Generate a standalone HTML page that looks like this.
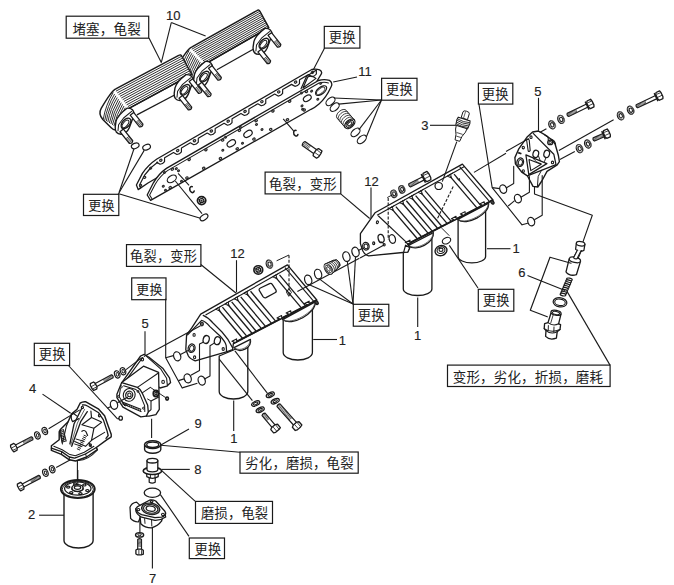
<!DOCTYPE html><html><head><meta charset="utf-8"><style>html,body{margin:0;padding:0;background:#fff;}body{width:674px;height:585px;overflow:hidden;font-family:"Liberation Sans",sans-serif;}svg{display:block}</style></head><body><svg width="674" height="585" viewBox="0 0 674 585" font-family="Liberation Sans, sans-serif">
<rect x="66.2" y="16.2" width="82.5" height="22" fill="#fff" stroke="#1a1a1a" stroke-width="1.2"/>
<text x="72.4 86.12 99.84 113.56 127.28" y="33.82" font-size="13.51" fill="#222" font-family="'Liberation Sans', 'Noto Sans CJK SC', sans-serif">堵塞，龟裂</text>
<rect x="324.3" y="26.4" width="35.6" height="21.7" fill="#fff" stroke="#1a1a1a" stroke-width="1.2"/>
<text x="328.8 342.3" y="42.39" font-size="13.3" fill="#222" font-family="'Liberation Sans', 'Noto Sans CJK SC', sans-serif">更换</text>
<rect x="381.6" y="78.3" width="35.4" height="21.9" fill="#fff" stroke="#1a1a1a" stroke-width="1.2"/>
<text x="386 399.4" y="94.25" font-size="13.2" fill="#222" font-family="'Liberation Sans', 'Noto Sans CJK SC', sans-serif">更换</text>
<rect x="478.4" y="83.2" width="34.4" height="20.9" fill="#fff" stroke="#1a1a1a" stroke-width="1.2"/>
<text x="481.8 495.3" y="98.99" font-size="13.3" fill="#222" font-family="'Liberation Sans', 'Noto Sans CJK SC', sans-serif">更换</text>
<rect x="265.1" y="172.1" width="75.7" height="21.8" fill="#fff" stroke="#1a1a1a" stroke-width="1.2"/>
<text x="269 282.58 296.16 309.74 323.32" y="188.77" font-size="13.38" fill="#222" font-family="'Liberation Sans', 'Noto Sans CJK SC', sans-serif">龟裂，变形</text>
<rect x="126.5" y="244.6" width="74.4" height="21.8" fill="#fff" stroke="#1a1a1a" stroke-width="1.2"/>
<text x="130.1 143.5 156.9 170.3 183.7" y="260.55" font-size="13.2" fill="#222" font-family="'Liberation Sans', 'Noto Sans CJK SC', sans-serif">龟裂，变形</text>
<rect x="131.7" y="277.9" width="34.3" height="21.8" fill="#fff" stroke="#1a1a1a" stroke-width="1.2"/>
<text x="136.3 149.4" y="293.58" font-size="12.9" fill="#222" font-family="'Liberation Sans', 'Noto Sans CJK SC', sans-serif">更换</text>
<rect x="34.3" y="343.3" width="35.3" height="22.2" fill="#fff" stroke="#1a1a1a" stroke-width="1.2"/>
<text x="38.8 52.3" y="359.34" font-size="13.3" fill="#222" font-family="'Liberation Sans', 'Noto Sans CJK SC', sans-serif">更换</text>
<rect x="353.3" y="304.3" width="35.5" height="21.9" fill="#fff" stroke="#1a1a1a" stroke-width="1.2"/>
<text x="357.8 371.25" y="320.17" font-size="13.25" fill="#222" font-family="'Liberation Sans', 'Noto Sans CJK SC', sans-serif">更换</text>
<rect x="478.3" y="289.3" width="35.5" height="21.9" fill="#fff" stroke="#1a1a1a" stroke-width="1.2"/>
<text x="482.8 496.25" y="305.17" font-size="13.25" fill="#222" font-family="'Liberation Sans', 'Noto Sans CJK SC', sans-serif">更换</text>
<rect x="447.5" y="365.1" width="162.6" height="21.4" fill="#fff" stroke="#1a1a1a" stroke-width="1.2"/>
<text x="452.7 466.38 480.07 493.75 507.43 521.11 534.79 548.48 562.16 575.84 589.52" y="381.76" font-size="13.48" fill="#222" font-family="'Liberation Sans', 'Noto Sans CJK SC', sans-serif">变形，劣化，折损，磨耗</text>
<rect x="240" y="452" width="118.2" height="21.2" fill="#fff" stroke="#1a1a1a" stroke-width="1.2"/>
<text x="245.3 258.85 272.4 285.95 299.5 313.05 326.6 340.15" y="468.41" font-size="13.35" fill="#222" font-family="'Liberation Sans', 'Noto Sans CJK SC', sans-serif">劣化，磨损，龟裂</text>
<rect x="195.5" y="501.4" width="77" height="22" fill="#fff" stroke="#1a1a1a" stroke-width="1.2"/>
<text x="201 214.46 227.92 241.38 254.84" y="517.67" font-size="13.26" fill="#222" font-family="'Liberation Sans', 'Noto Sans CJK SC', sans-serif">磨损，龟裂</text>
<rect x="189.3" y="538" width="35.2" height="20.6" fill="#fff" stroke="#1a1a1a" stroke-width="1.2"/>
<text x="194.5 207.9" y="553.75" font-size="13.2" fill="#222" font-family="'Liberation Sans', 'Noto Sans CJK SC', sans-serif">更换</text>
<rect x="83.5" y="194.3" width="35.3" height="21.2" fill="#fff" stroke="#1a1a1a" stroke-width="1.2"/>
<text x="88.2 101.45" y="210.14" font-size="13.05" fill="#222" font-family="'Liberation Sans', 'Noto Sans CJK SC', sans-serif">更换</text>
<path d="M204 64.6 L268.8 27.6 L270.2 33 L216.9 70.3 Z" fill="#fff" stroke="#1a1a1a" stroke-width="0.014" stroke-linejoin="round" stroke-linecap="round" />
<line x1="216.9" y1="69.8" x2="255" y2="48.2" stroke="#1a1a1a" stroke-width="1.242" />
<path d="M191.6 47.1 L256.9 10.6 Q259.2 9.2 260.1 11.7 L268.8 27.6 L204 64.6 L195.1 83.8 Q191.5 87.2 187.7 83.2 L178.6 77.7 Q173.8 72.3 177 66.7 Q187 49.3 191.6 47.1 Z" fill="#fff" stroke="#1a1a1a" stroke-width="1.449" stroke-linejoin="round" stroke-linecap="round" />
<line x1="191.8" y1="49.2" x2="259.75" y2="11.22" stroke="#222" stroke-width="0.938" />
<path d="M188.9 50.75 Q181.59 62.77 179.19 76.8" fill="none" stroke="#222" stroke-width="0.938" stroke-linejoin="round" stroke-linecap="round" />
<line x1="193.2" y1="50.64" x2="260.69" y2="12.84" stroke="#222" stroke-width="0.938" />
<path d="M190.3 52.19 Q183.22 63.85 180.78 77.5" fill="none" stroke="#222" stroke-width="0.938" stroke-linejoin="round" stroke-linecap="round" />
<line x1="194.6" y1="52.09" x2="261.64" y2="14.45" stroke="#222" stroke-width="0.938" />
<path d="M191.7 53.64 Q184.86 64.92 182.37 78.2" fill="none" stroke="#222" stroke-width="0.938" stroke-linejoin="round" stroke-linecap="round" />
<line x1="196" y1="53.53" x2="262.58" y2="16.07" stroke="#222" stroke-width="0.938" />
<path d="M193.1 55.08 Q186.5 65.99 183.96 78.9" fill="none" stroke="#222" stroke-width="0.938" stroke-linejoin="round" stroke-linecap="round" />
<line x1="197.4" y1="54.98" x2="263.53" y2="17.69" stroke="#222" stroke-width="0.938" />
<path d="M194.5 56.53 Q188.14 67.06 185.55 79.6" fill="none" stroke="#222" stroke-width="0.938" stroke-linejoin="round" stroke-linecap="round" />
<line x1="198.8" y1="56.42" x2="264.47" y2="19.31" stroke="#222" stroke-width="0.938" />
<path d="M195.9 57.97 Q189.77 68.14 187.15 80.3" fill="none" stroke="#222" stroke-width="0.938" stroke-linejoin="round" stroke-linecap="round" />
<line x1="200.2" y1="57.87" x2="265.42" y2="20.93" stroke="#222" stroke-width="0.938" />
<path d="M197.3 59.42 Q191.41 69.21 188.74 81" fill="none" stroke="#222" stroke-width="0.938" stroke-linejoin="round" stroke-linecap="round" />
<line x1="201.6" y1="59.31" x2="266.36" y2="22.55" stroke="#222" stroke-width="0.938" />
<path d="M198.7 60.86 Q193.05 70.28 190.33 81.7" fill="none" stroke="#222" stroke-width="0.938" stroke-linejoin="round" stroke-linecap="round" />
<line x1="203" y1="60.76" x2="267.31" y2="24.16" stroke="#222" stroke-width="0.938" />
<path d="M200.1 62.31 Q194.69 71.35 191.92 82.4" fill="none" stroke="#222" stroke-width="0.938" stroke-linejoin="round" stroke-linecap="round" />
<line x1="204.4" y1="62.2" x2="268.25" y2="25.78" stroke="#222" stroke-width="0.938" />
<path d="M201.5 63.75 Q196.32 72.43 193.51 83.1" fill="none" stroke="#222" stroke-width="0.938" stroke-linejoin="round" stroke-linecap="round" />
<line x1="205.8" y1="63.65" x2="268.8" y2="27.6" stroke="#1a1a1a" stroke-width="1.311" />
<path d="M202.9 65.2 Q197.96 73.5 195.1 83.8" fill="none" stroke="#1a1a1a" stroke-width="1.311" stroke-linejoin="round" stroke-linecap="round" />
<path d="M264.9 28.4 Q271.7 28 272.1 34.6 L267.1 48.2 Q264.4 54.1 258.9 54.4 Q252.7 54.2 253.1 47.1 L253.9 41.6 Q255.3 35.6 264.9 28.4 Z" fill="#fff" stroke="#1a1a1a" stroke-width="1.38" stroke-linejoin="round" stroke-linecap="round" />
<path d="M269.5 31.6 L261.5 38.2 L256.5 45 L255.9 51" fill="none" stroke="#1a1a1a" stroke-width="1.035" stroke-linejoin="round" stroke-linecap="round" />
<ellipse cx="263.9" cy="43.6" rx="6.2" ry="3.7" fill="none" stroke="#1a1a1a" stroke-width="1.311" transform="rotate(-50 263.9 43.6)"/>
<ellipse cx="263.4" cy="44.1" rx="4.5" ry="2.2" fill="none" stroke="#1a1a1a" stroke-width="1.035" transform="rotate(-50 263.4 44.1)"/>
<path d="M268.08 35.36 L277.38 47.06 Q280.46 47.42 280.82 44.34 L271.52 32.64 Z" fill="#fff" stroke="#1a1a1a" stroke-width="1.242" stroke-linejoin="round" stroke-linecap="round" />
<line x1="277.01" y1="46.6" x2="280.44" y2="43.87" stroke="#333" stroke-width="0.828" />
<line x1="276.21" y1="45.58" x2="279.64" y2="42.85" stroke="#333" stroke-width="0.828" />
<line x1="275.4" y1="44.57" x2="278.83" y2="41.84" stroke="#333" stroke-width="0.828" />
<line x1="274.59" y1="43.55" x2="278.03" y2="40.83" stroke="#333" stroke-width="0.828" />
<line x1="273.79" y1="42.54" x2="277.22" y2="39.81" stroke="#333" stroke-width="0.828" />
<path d="M257.88 51.96 L267.18 63.66 Q270.26 64.02 270.62 60.94 L261.32 49.24 Z" fill="#fff" stroke="#1a1a1a" stroke-width="1.242" stroke-linejoin="round" stroke-linecap="round" />
<line x1="266.81" y1="63.2" x2="270.24" y2="60.47" stroke="#333" stroke-width="0.828" />
<line x1="266.01" y1="62.18" x2="269.44" y2="59.45" stroke="#333" stroke-width="0.828" />
<line x1="265.2" y1="61.17" x2="268.63" y2="58.44" stroke="#333" stroke-width="0.828" />
<line x1="264.39" y1="60.15" x2="267.83" y2="57.43" stroke="#333" stroke-width="0.828" />
<line x1="263.59" y1="59.14" x2="267.02" y2="56.41" stroke="#333" stroke-width="0.828" />
<path d="M205.4 61.4 Q212.2 61 212.6 67.6 L207.6 81.2 Q204.9 87.1 199.4 87.4 Q193.2 87.2 193.6 80.1 L194.4 74.6 Q195.8 68.6 205.4 61.4 Z" fill="#fff" stroke="#1a1a1a" stroke-width="1.38" stroke-linejoin="round" stroke-linecap="round" />
<path d="M210 64.6 L202 71.2 L197 78 L196.4 84" fill="none" stroke="#1a1a1a" stroke-width="1.035" stroke-linejoin="round" stroke-linecap="round" />
<ellipse cx="204.4" cy="76.6" rx="6.2" ry="3.7" fill="none" stroke="#1a1a1a" stroke-width="1.311" transform="rotate(-50 204.4 76.6)"/>
<ellipse cx="203.9" cy="77.1" rx="4.5" ry="2.2" fill="none" stroke="#1a1a1a" stroke-width="1.035" transform="rotate(-50 203.9 77.1)"/>
<path d="M208.58 68.36 L217.88 80.06 Q220.96 80.42 221.32 77.34 L212.02 65.64 Z" fill="#fff" stroke="#1a1a1a" stroke-width="1.242" stroke-linejoin="round" stroke-linecap="round" />
<line x1="217.51" y1="79.6" x2="220.94" y2="76.87" stroke="#333" stroke-width="0.828" />
<line x1="216.71" y1="78.58" x2="220.14" y2="75.85" stroke="#333" stroke-width="0.828" />
<line x1="215.9" y1="77.57" x2="219.33" y2="74.84" stroke="#333" stroke-width="0.828" />
<line x1="215.09" y1="76.55" x2="218.53" y2="73.83" stroke="#333" stroke-width="0.828" />
<line x1="214.29" y1="75.54" x2="217.72" y2="72.81" stroke="#333" stroke-width="0.828" />
<path d="M198.38 84.96 L207.68 96.66 Q210.76 97.02 211.12 93.94 L201.82 82.24 Z" fill="#fff" stroke="#1a1a1a" stroke-width="1.242" stroke-linejoin="round" stroke-linecap="round" />
<line x1="207.31" y1="96.2" x2="210.74" y2="93.47" stroke="#333" stroke-width="0.828" />
<line x1="206.51" y1="95.18" x2="209.94" y2="92.45" stroke="#333" stroke-width="0.828" />
<line x1="205.7" y1="94.17" x2="209.13" y2="91.44" stroke="#333" stroke-width="0.828" />
<line x1="204.89" y1="93.15" x2="208.33" y2="90.43" stroke="#333" stroke-width="0.828" />
<line x1="204.09" y1="92.14" x2="207.52" y2="89.41" stroke="#333" stroke-width="0.828" />
<path d="M127.5 109.2 L191.7 74.4 L193.1 79.8 L136.9 115.4 Z" fill="#fff" stroke="#1a1a1a" stroke-width="0.014" stroke-linejoin="round" stroke-linecap="round" />
<line x1="136.9" y1="114.9" x2="178.4" y2="93" stroke="#1a1a1a" stroke-width="1.242" />
<path d="M115.8 88.8 L178.7 55.4 Q181 54 181.9 56.5 L191.7 74.4 L127.5 109.2 L118.6 128.4 Q115 131.8 111.2 127.8 L102.8 119.4 Q98 114 101.2 108.4 Q111.2 91 115.8 88.8 Z" fill="#fff" stroke="#1a1a1a" stroke-width="1.449" stroke-linejoin="round" stroke-linecap="round" />
<line x1="115.94" y1="91.16" x2="181.65" y2="56.2" stroke="#222" stroke-width="0.938" />
<path d="M113.04 92.71 Q105.72 104.74 103.33 118.76" fill="none" stroke="#222" stroke-width="0.938" stroke-linejoin="round" stroke-linecap="round" />
<line x1="117.27" y1="92.87" x2="182.69" y2="58" stroke="#222" stroke-width="0.938" />
<path d="M114.37 94.42 Q107.3 106.07 104.85 119.73" fill="none" stroke="#222" stroke-width="0.938" stroke-linejoin="round" stroke-linecap="round" />
<line x1="118.61" y1="94.58" x2="183.74" y2="59.8" stroke="#222" stroke-width="0.938" />
<path d="M115.71 96.13 Q108.87 107.41 106.38 120.69" fill="none" stroke="#222" stroke-width="0.938" stroke-linejoin="round" stroke-linecap="round" />
<line x1="119.95" y1="96.29" x2="184.78" y2="61.6" stroke="#222" stroke-width="0.938" />
<path d="M117.05 97.84 Q110.44 108.75 107.91 121.65" fill="none" stroke="#222" stroke-width="0.938" stroke-linejoin="round" stroke-linecap="round" />
<line x1="121.28" y1="98" x2="185.83" y2="63.4" stroke="#222" stroke-width="0.938" />
<path d="M118.38 99.55 Q112.02 110.08 109.44 122.62" fill="none" stroke="#222" stroke-width="0.938" stroke-linejoin="round" stroke-linecap="round" />
<line x1="122.62" y1="99.7" x2="186.87" y2="65.2" stroke="#222" stroke-width="0.938" />
<path d="M119.72 101.25 Q113.59 111.42 110.96 123.58" fill="none" stroke="#222" stroke-width="0.938" stroke-linejoin="round" stroke-linecap="round" />
<line x1="123.95" y1="101.41" x2="187.92" y2="67" stroke="#222" stroke-width="0.938" />
<path d="M121.05 102.96 Q115.17 112.75 112.49 124.55" fill="none" stroke="#222" stroke-width="0.938" stroke-linejoin="round" stroke-linecap="round" />
<line x1="125.29" y1="103.12" x2="188.96" y2="68.8" stroke="#222" stroke-width="0.938" />
<path d="M122.39 104.67 Q116.74 114.09 114.02 125.51" fill="none" stroke="#222" stroke-width="0.938" stroke-linejoin="round" stroke-linecap="round" />
<line x1="126.63" y1="104.83" x2="190.01" y2="70.6" stroke="#222" stroke-width="0.938" />
<path d="M123.73 106.38 Q118.31 115.43 115.55 126.47" fill="none" stroke="#222" stroke-width="0.938" stroke-linejoin="round" stroke-linecap="round" />
<line x1="127.96" y1="106.54" x2="191.05" y2="72.4" stroke="#222" stroke-width="0.938" />
<path d="M125.06 108.09 Q119.89 116.76 117.07 127.44" fill="none" stroke="#222" stroke-width="0.938" stroke-linejoin="round" stroke-linecap="round" />
<line x1="129.3" y1="108.25" x2="191.7" y2="74.4" stroke="#1a1a1a" stroke-width="1.311" />
<path d="M126.4 109.8 Q121.46 118.1 118.6 128.4" fill="none" stroke="#1a1a1a" stroke-width="1.311" stroke-linejoin="round" stroke-linecap="round" />
<path d="M186 74.6 Q192.8 74.2 193.2 80.8 L188.2 94.4 Q185.5 100.3 180 100.6 Q173.8 100.4 174.2 93.3 L175 87.8 Q176.4 81.8 186 74.6 Z" fill="#fff" stroke="#1a1a1a" stroke-width="1.38" stroke-linejoin="round" stroke-linecap="round" />
<path d="M190.6 77.8 L182.6 84.4 L177.6 91.2 L177 97.2" fill="none" stroke="#1a1a1a" stroke-width="1.035" stroke-linejoin="round" stroke-linecap="round" />
<ellipse cx="185" cy="89.8" rx="6.2" ry="3.7" fill="none" stroke="#1a1a1a" stroke-width="1.311" transform="rotate(-50 185 89.8)"/>
<ellipse cx="184.5" cy="90.3" rx="4.5" ry="2.2" fill="none" stroke="#1a1a1a" stroke-width="1.035" transform="rotate(-50 184.5 90.3)"/>
<path d="M189.18 81.56 L198.48 93.26 Q201.56 93.62 201.92 90.54 L192.62 78.84 Z" fill="#fff" stroke="#1a1a1a" stroke-width="1.242" stroke-linejoin="round" stroke-linecap="round" />
<line x1="198.11" y1="92.8" x2="201.54" y2="90.07" stroke="#333" stroke-width="0.828" />
<line x1="197.31" y1="91.78" x2="200.74" y2="89.05" stroke="#333" stroke-width="0.828" />
<line x1="196.5" y1="90.77" x2="199.93" y2="88.04" stroke="#333" stroke-width="0.828" />
<line x1="195.69" y1="89.75" x2="199.13" y2="87.03" stroke="#333" stroke-width="0.828" />
<line x1="194.89" y1="88.74" x2="198.32" y2="86.01" stroke="#333" stroke-width="0.828" />
<path d="M178.98 98.16 L188.28 109.86 Q191.36 110.22 191.72 107.14 L182.42 95.44 Z" fill="#fff" stroke="#1a1a1a" stroke-width="1.242" stroke-linejoin="round" stroke-linecap="round" />
<line x1="187.91" y1="109.4" x2="191.34" y2="106.67" stroke="#333" stroke-width="0.828" />
<line x1="187.11" y1="108.38" x2="190.54" y2="105.65" stroke="#333" stroke-width="0.828" />
<line x1="186.3" y1="107.37" x2="189.73" y2="104.64" stroke="#333" stroke-width="0.828" />
<line x1="185.49" y1="106.35" x2="188.93" y2="103.63" stroke="#333" stroke-width="0.828" />
<line x1="184.69" y1="105.34" x2="188.12" y2="102.61" stroke="#333" stroke-width="0.828" />
<path d="M127 108.2 Q133.8 107.8 134.2 114.4 L129.2 128 Q126.5 133.9 121 134.2 Q114.8 134 115.2 126.9 L116 121.4 Q117.4 115.4 127 108.2 Z" fill="#fff" stroke="#1a1a1a" stroke-width="1.38" stroke-linejoin="round" stroke-linecap="round" />
<path d="M131.6 111.4 L123.6 118 L118.6 124.8 L118 130.8" fill="none" stroke="#1a1a1a" stroke-width="1.035" stroke-linejoin="round" stroke-linecap="round" />
<ellipse cx="126" cy="123.4" rx="6.2" ry="3.7" fill="none" stroke="#1a1a1a" stroke-width="1.311" transform="rotate(-50 126 123.4)"/>
<ellipse cx="125.5" cy="123.9" rx="4.5" ry="2.2" fill="none" stroke="#1a1a1a" stroke-width="1.035" transform="rotate(-50 125.5 123.9)"/>
<path d="M130.18 115.16 L139.48 126.86 Q142.56 127.22 142.92 124.14 L133.62 112.44 Z" fill="#fff" stroke="#1a1a1a" stroke-width="1.242" stroke-linejoin="round" stroke-linecap="round" />
<line x1="139.11" y1="126.4" x2="142.54" y2="123.67" stroke="#333" stroke-width="0.828" />
<line x1="138.31" y1="125.38" x2="141.74" y2="122.65" stroke="#333" stroke-width="0.828" />
<line x1="137.5" y1="124.37" x2="140.93" y2="121.64" stroke="#333" stroke-width="0.828" />
<line x1="136.69" y1="123.35" x2="140.13" y2="120.63" stroke="#333" stroke-width="0.828" />
<line x1="135.89" y1="122.34" x2="139.32" y2="119.61" stroke="#333" stroke-width="0.828" />
<path d="M119.98 131.76 L129.28 143.46 Q132.36 143.82 132.72 140.74 L123.42 129.04 Z" fill="#fff" stroke="#1a1a1a" stroke-width="1.242" stroke-linejoin="round" stroke-linecap="round" />
<line x1="128.91" y1="143" x2="132.34" y2="140.27" stroke="#333" stroke-width="0.828" />
<line x1="128.11" y1="141.98" x2="131.54" y2="139.25" stroke="#333" stroke-width="0.828" />
<line x1="127.3" y1="140.97" x2="130.73" y2="138.24" stroke="#333" stroke-width="0.828" />
<line x1="126.49" y1="139.95" x2="129.93" y2="137.23" stroke="#333" stroke-width="0.828" />
<line x1="125.69" y1="138.94" x2="129.12" y2="136.21" stroke="#333" stroke-width="0.828" />
<text x="166" y="19.8" font-size="13" fill="#222" stroke="#222" stroke-width="0.15" text-anchor="start">10</text>
<line x1="171.3" y1="22.6" x2="161.3" y2="62.6" stroke="#1a1a1a" stroke-width="1.104" />
<line x1="171.3" y1="22.6" x2="205.6" y2="36" stroke="#1a1a1a" stroke-width="1.104" />
<line x1="149" y1="38" x2="161.3" y2="62.6" stroke="#1a1a1a" stroke-width="1.104" />
<path d="M138.2 189.6 L136.4 185 L142.4 173.4 Q148 165 156.9 159 L311.8 69.5 Q316 68.6 319.6 69.8 Q322.6 71.4 321.2 74.2 L314 86 L148 183 Z" fill="#fff" stroke="#1a1a1a" stroke-width="1.311" stroke-linejoin="round" stroke-linecap="round" />
<path d="M140.6 188 L139.4 185.2 L144.8 174.8 Q150 167.4 157.6 162.2 L156.63 162.27 Q158.29 163.16 160.06 164.22 Q162.91 163.96 164.56 161.62 Q164.53 159.56 164.6 157.67 L173.5 152.54 Q175.16 153.42 176.93 154.48 Q179.78 154.22 181.43 151.88 Q181.4 149.82 181.46 147.94 L190.36 142.8 Q192.03 143.68 193.79 144.74 Q196.65 144.48 198.3 142.14 Q198.26 140.08 198.33 138.2 L207.23 133.06 Q208.9 133.94 210.66 135 Q213.51 134.74 215.17 132.4 Q215.13 130.34 215.2 128.46 L224.1 123.32 Q225.76 124.21 227.53 125.26 Q230.38 125 232.03 122.66 Q232 120.61 232.06 118.72 L240.96 113.58 Q242.63 114.47 244.4 115.53 Q247.25 115.27 248.9 112.93 Q248.87 110.87 248.93 108.98 L257.83 103.84 Q259.5 104.73 261.26 105.79 Q264.11 105.53 265.77 103.19 Q265.73 101.13 265.8 99.24 L274.7 94.1 Q276.36 94.99 278.13 96.05 Q280.98 95.79 282.63 93.45 Q282.6 91.39 282.67 89.5 L291.57 84.37 Q293.23 85.25 295 86.31 Q297.85 86.05 299.5 83.71 Q299.47 81.65 299.53 79.77 L308.43 74.63 Q310.1 75.51 311.86 76.57 Q314.72 76.31 316.37 73.97 Q316.33 71.91 316.4 70.03 L306.6 76.2" fill="none" stroke="#1a1a1a" stroke-width="1.173" stroke-linejoin="round" stroke-linecap="round" />
<ellipse cx="160.8" cy="160.3" rx="1.26" ry="0.98" fill="none" stroke="#2a2a2a" stroke-width="1.242" transform="rotate(-30 160.8 160.3)"/>
<ellipse cx="177.65" cy="150.53" rx="1.26" ry="0.98" fill="none" stroke="#2a2a2a" stroke-width="1.242" transform="rotate(-30 177.65 150.53)"/>
<ellipse cx="194.5" cy="140.76" rx="1.26" ry="0.98" fill="none" stroke="#2a2a2a" stroke-width="1.242" transform="rotate(-30 194.5 140.76)"/>
<ellipse cx="211.35" cy="130.99" rx="1.26" ry="0.98" fill="none" stroke="#2a2a2a" stroke-width="1.242" transform="rotate(-30 211.35 130.99)"/>
<ellipse cx="228.2" cy="121.22" rx="1.26" ry="0.98" fill="none" stroke="#2a2a2a" stroke-width="1.242" transform="rotate(-30 228.2 121.22)"/>
<ellipse cx="245.05" cy="111.45" rx="1.26" ry="0.98" fill="none" stroke="#2a2a2a" stroke-width="1.242" transform="rotate(-30 245.05 111.45)"/>
<ellipse cx="261.9" cy="101.68" rx="1.26" ry="0.98" fill="none" stroke="#2a2a2a" stroke-width="1.242" transform="rotate(-30 261.9 101.68)"/>
<ellipse cx="278.75" cy="91.91" rx="1.26" ry="0.98" fill="none" stroke="#2a2a2a" stroke-width="1.242" transform="rotate(-30 278.75 91.91)"/>
<ellipse cx="295.6" cy="82.14" rx="1.26" ry="0.98" fill="none" stroke="#2a2a2a" stroke-width="1.242" transform="rotate(-30 295.6 82.14)"/>
<ellipse cx="312.45" cy="72.37" rx="1.26" ry="0.98" fill="none" stroke="#2a2a2a" stroke-width="1.242" transform="rotate(-30 312.45 72.37)"/>
<ellipse cx="144.6" cy="177.4" rx="1.21" ry="0.94" fill="none" stroke="#2a2a2a" stroke-width="1.242" transform="rotate(-30 144.6 177.4)"/>
<ellipse cx="140.6" cy="185.4" rx="1.1" ry="0.85" fill="none" stroke="#2a2a2a" stroke-width="1.242" transform="rotate(-30 140.6 185.4)"/>
<ellipse cx="150.6" cy="168.2" rx="1.1" ry="0.85" fill="none" stroke="#2a2a2a" stroke-width="1.242" transform="rotate(-30 150.6 168.2)"/>
<path d="M306.6 76.2 L301 88.7 M307.8 77 Q311 74.6 316 78.4 L303 88 Z" fill="none" stroke="#1a1a1a" stroke-width="1.173" stroke-linejoin="round" stroke-linecap="round" />
<path d="M150.6 200.4 L147.2 195 L153.4 182.8 Q158.5 174 166.4 168.4 L318.5 80.5 Q324 78.8 329.5 80.4 Q333.2 83 331 87 Q326 98 319 104 Q315 107.5 311 109.3 Z" fill="#fff" stroke="#1a1a1a" stroke-width="1.311" stroke-linejoin="round" stroke-linecap="round" />
<path d="M151.8 198.6 L149.6 195 L155.2 184.2 Q160 176 167.5 170.6 L319 83 Q324.5 81.5 328.4 83" fill="none" stroke="#1a1a1a" stroke-width="1.035" stroke-linejoin="round" stroke-linecap="round" />
<ellipse cx="172.4" cy="169.2" rx="1.26" ry="0.98" fill="none" stroke="#2a2a2a" stroke-width="1.242" transform="rotate(-30 172.4 169.2)"/>
<ellipse cx="189.15" cy="159.5" rx="1.26" ry="0.98" fill="none" stroke="#2a2a2a" stroke-width="1.242" transform="rotate(-30 189.15 159.5)"/>
<ellipse cx="205.9" cy="149.8" rx="1.26" ry="0.98" fill="none" stroke="#2a2a2a" stroke-width="1.242" transform="rotate(-30 205.9 149.8)"/>
<ellipse cx="222.65" cy="140.1" rx="1.26" ry="0.98" fill="none" stroke="#2a2a2a" stroke-width="1.242" transform="rotate(-30 222.65 140.1)"/>
<ellipse cx="239.4" cy="130.4" rx="1.26" ry="0.98" fill="none" stroke="#2a2a2a" stroke-width="1.242" transform="rotate(-30 239.4 130.4)"/>
<ellipse cx="256.15" cy="120.7" rx="1.26" ry="0.98" fill="none" stroke="#2a2a2a" stroke-width="1.242" transform="rotate(-30 256.15 120.7)"/>
<ellipse cx="272.9" cy="111" rx="1.26" ry="0.98" fill="none" stroke="#2a2a2a" stroke-width="1.242" transform="rotate(-30 272.9 111)"/>
<ellipse cx="289.65" cy="101.3" rx="1.26" ry="0.98" fill="none" stroke="#2a2a2a" stroke-width="1.242" transform="rotate(-30 289.65 101.3)"/>
<ellipse cx="306.4" cy="91.6" rx="1.26" ry="0.98" fill="none" stroke="#2a2a2a" stroke-width="1.242" transform="rotate(-30 306.4 91.6)"/>
<ellipse cx="170.2" cy="187.6" rx="1.26" ry="0.98" fill="none" stroke="#2a2a2a" stroke-width="1.242" transform="rotate(-30 170.2 187.6)"/>
<ellipse cx="186.95" cy="177.9" rx="1.26" ry="0.98" fill="none" stroke="#2a2a2a" stroke-width="1.242" transform="rotate(-30 186.95 177.9)"/>
<ellipse cx="203.7" cy="168.2" rx="1.26" ry="0.98" fill="none" stroke="#2a2a2a" stroke-width="1.242" transform="rotate(-30 203.7 168.2)"/>
<ellipse cx="220.45" cy="158.5" rx="1.26" ry="0.98" fill="none" stroke="#2a2a2a" stroke-width="1.242" transform="rotate(-30 220.45 158.5)"/>
<ellipse cx="237.2" cy="148.8" rx="1.26" ry="0.98" fill="none" stroke="#2a2a2a" stroke-width="1.242" transform="rotate(-30 237.2 148.8)"/>
<ellipse cx="253.95" cy="139.1" rx="1.26" ry="0.98" fill="none" stroke="#2a2a2a" stroke-width="1.242" transform="rotate(-30 253.95 139.1)"/>
<ellipse cx="270.7" cy="129.4" rx="1.26" ry="0.98" fill="none" stroke="#2a2a2a" stroke-width="1.242" transform="rotate(-30 270.7 129.4)"/>
<ellipse cx="287.45" cy="119.7" rx="1.26" ry="0.98" fill="none" stroke="#2a2a2a" stroke-width="1.242" transform="rotate(-30 287.45 119.7)"/>
<ellipse cx="304.2" cy="110" rx="1.26" ry="0.98" fill="none" stroke="#2a2a2a" stroke-width="1.242" transform="rotate(-30 304.2 110)"/>
<ellipse cx="321.1" cy="90.6" rx="6.6" ry="3.4" fill="none" stroke="#1a1a1a" stroke-width="1.173" transform="rotate(-38 321.1 90.6)"/>
<ellipse cx="320.7" cy="90.9" rx="5.2" ry="2.3" fill="none" stroke="#1a1a1a" stroke-width="0.828" transform="rotate(-38 320.7 90.9)"/>
<ellipse cx="307.3" cy="98.3" rx="4.3" ry="2.7" fill="none" stroke="#1a1a1a" stroke-width="1.173" transform="rotate(-33 307.3 98.3)"/>
<ellipse cx="248" cy="133.9" rx="4.6" ry="2.9" fill="none" stroke="#1a1a1a" stroke-width="1.173" transform="rotate(-33 248 133.9)"/>
<ellipse cx="231.3" cy="143.4" rx="4.6" ry="2.9" fill="none" stroke="#1a1a1a" stroke-width="1.173" transform="rotate(-33 231.3 143.4)"/>
<ellipse cx="171.8" cy="178.9" rx="5" ry="3.2" fill="none" stroke="#1a1a1a" stroke-width="1.173" transform="rotate(-33 171.8 178.9)"/>
<ellipse cx="320.7" cy="83.4" rx="0.99" ry="0.77" fill="none" stroke="#2a2a2a" stroke-width="1.242" transform="rotate(-30 320.7 83.4)"/>
<ellipse cx="311.6" cy="91.1" rx="0.99" ry="0.77" fill="none" stroke="#2a2a2a" stroke-width="1.242" transform="rotate(-30 311.6 91.1)"/>
<ellipse cx="317.8" cy="99.2" rx="0.99" ry="0.77" fill="none" stroke="#2a2a2a" stroke-width="1.242" transform="rotate(-30 317.8 99.2)"/>
<ellipse cx="301.5" cy="93" rx="0.99" ry="0.77" fill="none" stroke="#2a2a2a" stroke-width="1.242" transform="rotate(-30 301.5 93)"/>
<ellipse cx="302" cy="105.9" rx="0.99" ry="0.77" fill="none" stroke="#2a2a2a" stroke-width="1.242" transform="rotate(-30 302 105.9)"/>
<ellipse cx="302.6" cy="109.3" rx="0.99" ry="0.77" fill="none" stroke="#2a2a2a" stroke-width="1.242" transform="rotate(-30 302.6 109.3)"/>
<ellipse cx="256.5" cy="124.5" rx="0.99" ry="0.77" fill="none" stroke="#2a2a2a" stroke-width="1.242" transform="rotate(-30 256.5 124.5)"/>
<ellipse cx="240.5" cy="127.5" rx="0.99" ry="0.77" fill="none" stroke="#2a2a2a" stroke-width="1.242" transform="rotate(-30 240.5 127.5)"/>
<ellipse cx="242.5" cy="143.3" rx="0.99" ry="0.77" fill="none" stroke="#2a2a2a" stroke-width="1.242" transform="rotate(-30 242.5 143.3)"/>
<ellipse cx="222.8" cy="150.2" rx="0.99" ry="0.77" fill="none" stroke="#2a2a2a" stroke-width="1.242" transform="rotate(-30 222.8 150.2)"/>
<ellipse cx="225.5" cy="137.2" rx="0.99" ry="0.77" fill="none" stroke="#2a2a2a" stroke-width="1.242" transform="rotate(-30 225.5 137.2)"/>
<ellipse cx="262" cy="129.5" rx="0.99" ry="0.77" fill="none" stroke="#2a2a2a" stroke-width="1.242" transform="rotate(-30 262 129.5)"/>
<ellipse cx="164.5" cy="172.5" rx="0.99" ry="0.77" fill="none" stroke="#2a2a2a" stroke-width="1.242" transform="rotate(-30 164.5 172.5)"/>
<ellipse cx="178.5" cy="170.8" rx="0.99" ry="0.77" fill="none" stroke="#2a2a2a" stroke-width="1.242" transform="rotate(-30 178.5 170.8)"/>
<ellipse cx="163.3" cy="186.2" rx="0.99" ry="0.77" fill="none" stroke="#2a2a2a" stroke-width="1.242" transform="rotate(-30 163.3 186.2)"/>
<ellipse cx="165.5" cy="190.3" rx="0.99" ry="0.77" fill="none" stroke="#2a2a2a" stroke-width="1.242" transform="rotate(-30 165.5 190.3)"/>
<ellipse cx="181.5" cy="181.2" rx="0.99" ry="0.77" fill="none" stroke="#2a2a2a" stroke-width="1.242" transform="rotate(-30 181.5 181.2)"/>
<ellipse cx="176.3" cy="168.6" rx="0.99" ry="0.77" fill="none" stroke="#2a2a2a" stroke-width="1.242" transform="rotate(-30 176.3 168.6)"/>
<ellipse cx="135.2" cy="145.8" rx="4" ry="2.6" fill="#fff" stroke="#1a1a1a" stroke-width="1.173" transform="rotate(-22 135.2 145.8)"/>
<ellipse cx="146.6" cy="147.2" rx="4" ry="2.6" fill="#fff" stroke="#1a1a1a" stroke-width="1.173" transform="rotate(-22 146.6 147.2)"/>
<line x1="119" y1="192.8" x2="134" y2="148.8" stroke="#1a1a1a" stroke-width="1.104" />
<line x1="119" y1="192.8" x2="144.2" y2="150.4" stroke="#1a1a1a" stroke-width="1.104" />
<line x1="118" y1="193.5" x2="200.4" y2="218.2" stroke="#1a1a1a" stroke-width="1.104" />
<ellipse cx="204" cy="217.4" rx="4.4" ry="2.5" fill="#fff" stroke="#1a1a1a" stroke-width="1.173" transform="rotate(-35 204 217.4)"/>
<line x1="175.3" y1="181" x2="202" y2="213.6" stroke="#1a1a1a" stroke-width="1.104" />
<line x1="178.1" y1="173.3" x2="189.1" y2="185.3" stroke="#1a1a1a" stroke-width="1.104" />
<g transform="translate(192 189.6) rotate(-20)"><path d="M1.22 -2.56 A2.12 3.12 0 1 0 1.63 2.01" fill="none" stroke="#1a1a1a" stroke-width="1.5" stroke-linecap="round"/></g>
<ellipse cx="201.6" cy="200.6" rx="4.2" ry="3.99" fill="#fff" stroke="#1a1a1a" stroke-width="1.656"/>
<ellipse cx="201.6" cy="200.6" rx="2.31" ry="2.1" fill="none" stroke="#1a1a1a" stroke-width="1.242"/>
<line x1="198.24" y1="199.34" x2="204.96" y2="201.86" stroke="#1a1a1a" stroke-width="0.828" />
<line x1="200.34" y1="203.96" x2="202.86" y2="197.24" stroke="#1a1a1a" stroke-width="0.828" />
<line x1="283.2" y1="118.8" x2="293.6" y2="130.8" stroke="#1a1a1a" stroke-width="1.104" />
<g transform="translate(295.8 133.2) rotate(-20)"><path d="M1.17 -2.46 A2.04 3 0 1 0 1.56 1.93" fill="none" stroke="#1a1a1a" stroke-width="1.5" stroke-linecap="round"/></g>
<path d="M313.61 153.52 L302.21 145.51 Q302.36 142.68 304.97 141.58 L316.37 149.59" fill="#fff" stroke="#1a1a1a" stroke-width="1.173" stroke-linejoin="round" stroke-linecap="round" />
<line x1="302.46" y1="145.68" x2="305.63" y2="142.04" stroke="#333" stroke-width="0.759" />
<line x1="303.48" y1="146.4" x2="306.65" y2="142.76" stroke="#333" stroke-width="0.759" />
<line x1="304.5" y1="147.12" x2="307.67" y2="143.48" stroke="#333" stroke-width="0.759" />
<line x1="305.53" y1="147.84" x2="308.69" y2="144.2" stroke="#333" stroke-width="0.759" />
<line x1="306.55" y1="148.56" x2="309.72" y2="144.91" stroke="#333" stroke-width="0.759" />
<line x1="307.57" y1="149.27" x2="310.74" y2="145.63" stroke="#333" stroke-width="0.759" />
<path d="M313.57 153.58 L316.41 149.53 L318.56 148.56 L322 150.97 L321.06 153.34 L318.48 157.03 L316.58 158.17 L313.14 155.75 Z" fill="#fff" stroke="#1a1a1a" stroke-width="1.311" stroke-linejoin="round" stroke-linecap="round" />
<line x1="314.96" y1="152.63" x2="319.14" y2="155.56" stroke="#1a1a1a" stroke-width="0.828" />
<line x1="317.15" y1="150.04" x2="320.95" y2="152.99" stroke="#1a1a1a" stroke-width="0.828" />
<ellipse cx="330.5" cy="101.3" rx="5.3" ry="3.2" fill="#fff" stroke="#1a1a1a" stroke-width="1.173" transform="rotate(-41 330.5 101.3)"/>
<ellipse cx="334.7" cy="107.1" rx="5.3" ry="3.2" fill="#fff" stroke="#1a1a1a" stroke-width="1.173" transform="rotate(-41 334.7 107.1)"/>
<ellipse cx="355.5" cy="132.4" rx="5.3" ry="3.2" fill="#fff" stroke="#1a1a1a" stroke-width="1.173" transform="rotate(-41 355.5 132.4)"/>
<ellipse cx="361.8" cy="139.4" rx="5.3" ry="3.2" fill="#fff" stroke="#1a1a1a" stroke-width="1.173" transform="rotate(-41 361.8 139.4)"/>
<line x1="381.5" y1="100" x2="333.9" y2="98" stroke="#1a1a1a" stroke-width="1.104" />
<line x1="381.5" y1="100" x2="338.5" y2="104.1" stroke="#1a1a1a" stroke-width="1.104" />
<line x1="381.5" y1="100" x2="358.8" y2="129.9" stroke="#1a1a1a" stroke-width="1.104" />
<line x1="381.5" y1="100" x2="366.3" y2="137" stroke="#1a1a1a" stroke-width="1.104" />
<path d="M337.04 118.1 A3.6 6 49.5 0 1 346.16 110.3 L354.36 119.9 L345.24 127.7 Z" fill="#fff" stroke="#1a1a1a" stroke-width="0.9"/>
<path d="M338.68 120.02 A3.6 6 49.5 0 1 347.8 112.22" fill="none" stroke="#1a1a1a" stroke-width="0.8"/>
<path d="M340.32 121.94 A3.6 6 49.5 0 1 349.44 114.14" fill="none" stroke="#1a1a1a" stroke-width="0.8"/>
<path d="M341.96 123.86 A3.6 6 49.5 0 1 351.08 116.06" fill="none" stroke="#1a1a1a" stroke-width="0.8"/>
<path d="M343.6 125.78 A3.6 6 49.5 0 1 352.72 117.98" fill="none" stroke="#1a1a1a" stroke-width="0.8"/>
<ellipse cx="349.8" cy="123.8" rx="3.6" ry="6" fill="#fff" stroke="#1a1a1a" stroke-width="1.311" transform="rotate(49.5 349.8 123.8)"/>
<ellipse cx="349.8" cy="123.8" rx="2.52" ry="4.32" fill="none" stroke="#1a1a1a" stroke-width="1.035" transform="rotate(49.5 349.8 123.8)"/>
<ellipse cx="349.8" cy="123.8" rx="1.44" ry="2.52" fill="none" stroke="#1a1a1a" stroke-width="1.035" transform="rotate(49.5 349.8 123.8)"/>
<text x="358.2" y="75.8" font-size="13" fill="#222" stroke="#222" stroke-width="0.15" text-anchor="start">11</text>
<line x1="357" y1="77" x2="333.2" y2="82" stroke="#1a1a1a" stroke-width="1.104" />
<line x1="324.6" y1="48" x2="313.2" y2="70" stroke="#1a1a1a" stroke-width="1.104" />
<text x="364.2" y="185.6" font-size="13" fill="#222" stroke="#222" stroke-width="0.15" text-anchor="start">12</text>
<line x1="371" y1="187.4" x2="371" y2="218.5" stroke="#1a1a1a" stroke-width="1.104" />
<path d="M403.3 247 L403.3 289 A14.3 6.5 0 0 0 431.9 289 L431.9 236 Z" fill="#fff" stroke="#1a1a1a" stroke-width="1.311" stroke-linejoin="round" stroke-linecap="round" />
<path d="M458.1 217 L458.1 256.4 A13.75 6.5 0 0 0 485.6 256.4 L485.6 206 Z" fill="#fff" stroke="#1a1a1a" stroke-width="1.311" stroke-linejoin="round" stroke-linecap="round" />
<path d="M408.5 245.5 C415.91 252.49 434.84 242.69 433.4 232.6 Z" fill="#fff" stroke="#1a1a1a" stroke-width="1.311" stroke-linejoin="round" stroke-linecap="round" />
<path d="M409.5 245.8 C415.18 251.07 434.1 241.27 432.9 233.2" fill="none" stroke="#555" stroke-width="0.828" stroke-linejoin="round" stroke-linecap="round" />
<path d="M457.8 219.4 C466.34 226.66 489.75 214.35 488.6 203.2 Z" fill="#fff" stroke="#1a1a1a" stroke-width="1.311" stroke-linejoin="round" stroke-linecap="round" />
<path d="M458.8 219.7 C465.59 225.24 489 212.93 488.1 203.8" fill="none" stroke="#555" stroke-width="0.828" stroke-linejoin="round" stroke-linecap="round" />
<path d="M375 212.8 L462.4 164.1 L493 200 L407.6 244.2 L409.8 247.6 L407.8 252 L368.6 255.9 Q364.4 254.6 362.6 250.4 L360.4 243.6 L360.4 233.6 Z" fill="#fff" stroke="#1a1a1a" stroke-width="1.311" stroke-linejoin="round" stroke-linecap="round" />
<line x1="378.2" y1="215.7" x2="407.3" y2="243.1" stroke="#1a1a1a" stroke-width="1.173" />
<line x1="377.08" y1="215.24" x2="464.48" y2="166.54" stroke="#1a1a1a" stroke-width="1.104" />
<line x1="391.84" y1="208.81" x2="417.32" y2="238.7" stroke="#1a1a1a" stroke-width="1.311" />
<line x1="395.85" y1="206.57" x2="421.34" y2="236.46" stroke="#1a1a1a" stroke-width="1.311" />
<path d="M389.4 208.37 L392.37 206.71 L393.18 210.08 Z" fill="none" stroke="#1a1a1a" stroke-width="0.966" stroke-linejoin="round" stroke-linecap="round" />
<line x1="390.8" y1="207.59" x2="394.82" y2="205.35" stroke="#1a1a1a" stroke-width="0.966" />
<line x1="402.32" y1="202.96" x2="428.05" y2="233.15" stroke="#1a1a1a" stroke-width="1.311" />
<line x1="406.34" y1="200.72" x2="432.07" y2="230.91" stroke="#1a1a1a" stroke-width="1.311" />
<path d="M399.89 202.52 L402.86 200.87 L403.67 204.24 Z" fill="none" stroke="#1a1a1a" stroke-width="0.966" stroke-linejoin="round" stroke-linecap="round" />
<line x1="401.29" y1="201.74" x2="405.3" y2="199.51" stroke="#1a1a1a" stroke-width="0.966" />
<line x1="411.59" y1="197.8" x2="437.53" y2="228.24" stroke="#1a1a1a" stroke-width="1.311" />
<line x1="415.61" y1="195.56" x2="441.55" y2="226" stroke="#1a1a1a" stroke-width="1.311" />
<path d="M409.15 197.36 L412.12 195.71 L412.93 199.07 Z" fill="none" stroke="#1a1a1a" stroke-width="0.966" stroke-linejoin="round" stroke-linecap="round" />
<line x1="410.55" y1="196.58" x2="414.57" y2="194.34" stroke="#1a1a1a" stroke-width="0.966" />
<line x1="420.85" y1="192.64" x2="447.02" y2="223.33" stroke="#1a1a1a" stroke-width="1.311" />
<line x1="424.87" y1="190.4" x2="451.03" y2="221.09" stroke="#1a1a1a" stroke-width="1.311" />
<path d="M418.42 192.2 L421.39 190.54 L422.2 193.91 Z" fill="none" stroke="#1a1a1a" stroke-width="0.966" stroke-linejoin="round" stroke-linecap="round" />
<line x1="419.82" y1="191.42" x2="423.83" y2="189.18" stroke="#1a1a1a" stroke-width="0.966" />
<line x1="450.04" y1="176.37" x2="476.89" y2="207.87" stroke="#1a1a1a" stroke-width="1.311" />
<line x1="454.06" y1="174.13" x2="480.91" y2="205.63" stroke="#1a1a1a" stroke-width="1.311" />
<path d="M447.61 175.93 L450.58 174.28 L451.39 177.64 Z" fill="none" stroke="#1a1a1a" stroke-width="0.966" stroke-linejoin="round" stroke-linecap="round" />
<line x1="449.01" y1="175.15" x2="453.03" y2="172.92" stroke="#1a1a1a" stroke-width="0.966" />
<line x1="407.6" y1="244.2" x2="493" y2="200" stroke="#1a1a1a" stroke-width="1.932" />
<path d="M405.31 242.53 L408.42 243.78 L410.2 242.86 L409.93 240.14 Z" fill="#fff" stroke="#1a1a1a" stroke-width="1.104" stroke-linejoin="round" stroke-linecap="round" />
<path d="M451.43 218.66 L454.54 219.91 L456.31 218.99 L456.05 216.27 Z" fill="#fff" stroke="#1a1a1a" stroke-width="1.104" stroke-linejoin="round" stroke-linecap="round" />
<path d="M460.4 214.02 L463.5 215.27 L465.28 214.35 L465.01 211.63 Z" fill="#fff" stroke="#1a1a1a" stroke-width="1.104" stroke-linejoin="round" stroke-linecap="round" />
<path d="M479.61 204.08 L482.72 205.32 L484.49 204.4 L484.23 201.69 Z" fill="#fff" stroke="#1a1a1a" stroke-width="1.104" stroke-linejoin="round" stroke-linecap="round" />
<line x1="459.6" y1="166.6" x2="489.6" y2="201.6" stroke="#1a1a1a" stroke-width="1.104" />
<ellipse cx="492.4" cy="202.2" rx="1.4" ry="2.1" fill="#444" stroke="#1a1a1a" stroke-width="1.242" transform="rotate(-40 492.4 202.2)"/>
<ellipse cx="438.7" cy="186" rx="3.7" ry="3.5" fill="#fff" stroke="#1a1a1a" stroke-width="1.242"/>
<ellipse cx="365.9" cy="246.2" rx="3.2" ry="3.9" fill="none" stroke="#1a1a1a" stroke-width="1.242" transform="rotate(-12 365.9 246.2)"/>
<ellipse cx="366" cy="246.4" rx="1.9" ry="2.4" fill="none" stroke="#1a1a1a" stroke-width="0.966" transform="rotate(-12 366 246.4)"/>
<ellipse cx="373.7" cy="243.3" rx="1" ry="1.4" fill="none" stroke="#1a1a1a" stroke-width="1.242"/>
<ellipse cx="381.1" cy="238.5" rx="2.9" ry="4.2" fill="none" stroke="#1a1a1a" stroke-width="1.242" transform="rotate(-15 381.1 238.5)"/>
<ellipse cx="392.3" cy="239" rx="3.1" ry="4.4" fill="none" stroke="#1a1a1a" stroke-width="1.242" transform="rotate(-15 392.3 239)"/>
<ellipse cx="377.4" cy="222.3" rx="1" ry="1.4" fill="none" stroke="#1a1a1a" stroke-width="1.104" transform="rotate(20 377.4 222.3)"/>
<ellipse cx="384.2" cy="244.8" rx="1" ry="1.2" fill="none" stroke="#1a1a1a" stroke-width="1.104"/>
<line x1="381.6" y1="241.4" x2="384.2" y2="244.8" stroke="#1a1a1a" stroke-width="0.966" />
<line x1="388.2" y1="198" x2="388.2" y2="239.8" stroke="#1a1a1a" stroke-width="1.104" stroke-dasharray="3 1.6"/>
<line x1="453.2" y1="186.6" x2="436.8" y2="219.8" stroke="#1a1a1a" stroke-width="1.104" stroke-dasharray="3 1.6"/>
<line x1="441.8" y1="228.2" x2="449.3" y2="235.7" stroke="#1a1a1a" stroke-width="0.966" />
<path d="M456.8 178 L458.8 180.4 Q460.2 180.6 459.6 178.6" fill="none" stroke="#1a1a1a" stroke-width="0.966" stroke-linejoin="round" stroke-linecap="round" />
<path d="M405.6 245.2 L409.8 247.6 L407.8 252 L403.6 252.4 Z" fill="#fff" stroke="#1a1a1a" stroke-width="1.242" stroke-linejoin="round" stroke-linecap="round" />
<line x1="360" y1="258" x2="384" y2="245" stroke="#1a1a1a" stroke-width="1.104" />
<line x1="358.9" y1="250.2" x2="362.8" y2="247.9" stroke="#1a1a1a" stroke-width="1.104" />
<ellipse cx="446.5" cy="240.7" rx="4.4" ry="3" fill="#fff" stroke="#1a1a1a" stroke-width="1.173" transform="rotate(-25 446.5 240.7)"/>
<ellipse cx="441" cy="250.6" rx="6" ry="5" fill="#fff" stroke="#1a1a1a" stroke-width="1.38" transform="rotate(-20 441 250.6)"/>
<ellipse cx="441" cy="250.2" rx="4" ry="3.2" fill="none" stroke="#1a1a1a" stroke-width="1.104" transform="rotate(-20 441 250.2)"/>
<ellipse cx="441" cy="249.8" rx="2" ry="1.7" fill="none" stroke="#1a1a1a" stroke-width="1.104"/>
<line x1="449.3" y1="245.4" x2="478" y2="288" stroke="#1a1a1a" stroke-width="1.104" />
<line x1="487" y1="248.7" x2="510.5" y2="248.7" stroke="#1a1a1a" stroke-width="1.104" />
<text x="512.5" y="252.8" font-size="13" fill="#222" stroke="#222" stroke-width="0.15" text-anchor="start">1</text>
<line x1="417.7" y1="297.5" x2="417.7" y2="327" stroke="#1a1a1a" stroke-width="1.104" />
<text x="414" y="339.6" font-size="13" fill="#222" stroke="#222" stroke-width="0.15" text-anchor="start">1</text>
<path d="M424.89 179.61 L410.45 186.93 Q408.3 186.01 408.82 183.72 L423.26 176.4" fill="#fff" stroke="#1a1a1a" stroke-width="1.173" stroke-linejoin="round" stroke-linecap="round" />
<line x1="410.72" y1="186.8" x2="409.53" y2="183.36" stroke="#333" stroke-width="0.759" />
<line x1="411.83" y1="186.23" x2="410.65" y2="182.8" stroke="#333" stroke-width="0.759" />
<line x1="412.95" y1="185.67" x2="411.76" y2="182.23" stroke="#333" stroke-width="0.759" />
<line x1="414.06" y1="185.1" x2="412.88" y2="181.66" stroke="#333" stroke-width="0.759" />
<line x1="415.18" y1="184.54" x2="413.99" y2="181.1" stroke="#333" stroke-width="0.759" />
<line x1="416.29" y1="183.97" x2="415.11" y2="180.53" stroke="#333" stroke-width="0.759" />
<line x1="417.41" y1="183.4" x2="416.22" y2="179.97" stroke="#333" stroke-width="0.759" />
<line x1="418.52" y1="182.84" x2="417.34" y2="179.4" stroke="#333" stroke-width="0.759" />
<path d="M425.22 180.26 L422.93 175.75 L423.1 173.34 L426.97 171.38 L428.66 173.35 L430.74 177.46 L430.85 179.72 L426.98 181.69 Z" fill="#fff" stroke="#1a1a1a" stroke-width="1.311" stroke-linejoin="round" stroke-linecap="round" />
<line x1="425.04" y1="178.54" x2="429.74" y2="176.16" stroke="#1a1a1a" stroke-width="0.828" />
<line x1="423.76" y1="175.33" x2="428.28" y2="173.29" stroke="#1a1a1a" stroke-width="0.828" />
<line x1="425.54" y1="182.67" x2="421.17" y2="174.06" stroke="#1a1a1a" stroke-width="1.518" />
<ellipse cx="401.8" cy="189.4" rx="3.8" ry="2.8" fill="#fff" stroke="#1a1a1a" stroke-width="1.173" transform="rotate(72 401.8 189.4)"/>
<ellipse cx="402.1" cy="189.4" rx="1.98" ry="1.4" fill="none" stroke="#1a1a1a" stroke-width="1.035" transform="rotate(72 402.1 189.4)"/>
<ellipse cx="402.5" cy="189.3" rx="3.69" ry="2.52" fill="none" stroke="#666" stroke-width="0.69" transform="rotate(72 402.5 189.3)"/>
<ellipse cx="393.8" cy="193.8" rx="3.8" ry="2.8" fill="#fff" stroke="#1a1a1a" stroke-width="1.173" transform="rotate(72 393.8 193.8)"/>
<ellipse cx="394.1" cy="193.8" rx="1.98" ry="1.4" fill="none" stroke="#1a1a1a" stroke-width="1.035" transform="rotate(72 394.1 193.8)"/>
<ellipse cx="394.5" cy="193.7" rx="3.69" ry="2.52" fill="none" stroke="#666" stroke-width="0.69" transform="rotate(72 394.5 193.7)"/>
<path d="M387.6 197.4 L392 195" fill="none" stroke="#1a1a1a" stroke-width="0.966" stroke-linejoin="round" stroke-linecap="round" />
<g transform="translate(466.4 112) rotate(17.5)">
<path d="M-3.3 0.8 Q-3.3 -0.8 0 -0.8 Q3.3 -0.8 3.3 0.8 L3.3 7 L-3.3 7 Z" fill="#fff" stroke="#1a1a1a" stroke-width="0.9"/>
<line x1="-0.9" y1="0" x2="-0.9" y2="7" stroke="#1a1a1a" stroke-width="0.6"/>
<path d="M-6.2 7.4 L6.2 7.4 L6.8 10 L6.2 15.8 L-6.2 15.8 L-6.8 10 Z" fill="#fff" stroke="#1a1a1a" stroke-width="1.0"/>
<path d="M-6.5 9.2 Q0 10.8 6.5 9.2" fill="none" stroke="#1a1a1a" stroke-width="0.8"/>
<path d="M-6.5 10.8 Q0 12.4 6.5 10.8" fill="none" stroke="#1a1a1a" stroke-width="0.8"/>
<path d="M-6.5 12.6 Q0 14.2 6.5 12.6" fill="none" stroke="#1a1a1a" stroke-width="0.8"/>
<path d="M-6.5 14.2 Q0 15.8 6.5 14.2" fill="none" stroke="#1a1a1a" stroke-width="0.8"/>
<path d="M-5.6 15.8 L5.6 15.8 L5.2 19.5 L3.2 24.5 L2.4 30 L-2.4 30 L-3.2 24.5 L-5.2 19.5 Z" fill="#fff" stroke="#1a1a1a" stroke-width="0.9"/>
<line x1="-3.2" y1="22.5" x2="3.2" y2="22.5" stroke="#1a1a1a" stroke-width="0.7"/>
<line x1="-2.4" y1="26" x2="2.4" y2="26" stroke="#1a1a1a" stroke-width="0.7"/>
</g>
<text x="421.2" y="129.6" font-size="13" fill="#222" stroke="#222" stroke-width="0.15" text-anchor="start">3</text>
<line x1="430" y1="125.3" x2="455.8" y2="125.3" stroke="#1a1a1a" stroke-width="1.104" />
<line x1="456.8" y1="141.6" x2="442.3" y2="181.6" stroke="#1a1a1a" stroke-width="1.104" />
<path d="M532.6 132 L527.4 136.7 L518.6 149.2 L514.9 157.6 L515.4 163.8 L521.7 172.2 L527.4 175.8 L533 186.4 L537.8 187 L541.8 181 L547 171.4 L557.2 164.9 L559.4 161.7 L558.4 155.5 L555.1 144 L551.9 139.8 L544.6 134.6 L538.4 131 Z" fill="#fff" stroke="#1a1a1a" stroke-width="1.38" stroke-linejoin="round" stroke-linecap="round" />
<path d="M533.2 133.4 L553.8 154.2 L556 164.6 L527.4 175.8" fill="none" stroke="#1a1a1a" stroke-width="1.242" stroke-linejoin="round" stroke-linecap="round" />
<path d="M541.6 170.2 L538.2 176.4 L537.4 186.6" fill="none" stroke="#1a1a1a" stroke-width="0.966" stroke-linejoin="round" stroke-linecap="round" />
<path d="M545 135.2 Q549 136.4 548.2 140.2 M550.4 139 Q555 139.8 555.6 144.6" fill="none" stroke="#1a1a1a" stroke-width="1.104" stroke-linejoin="round" stroke-linecap="round" />
<ellipse cx="550.2" cy="142.4" rx="2.5" ry="2.3" fill="none" stroke="#1a1a1a" stroke-width="1.242"/>
<ellipse cx="550.2" cy="142.4" rx="1.2" ry="1.1" fill="none" stroke="#1a1a1a" stroke-width="0.966"/>
<ellipse cx="535.8" cy="153.9" rx="2.8" ry="3.7" fill="none" stroke="#1a1a1a" stroke-width="1.242" transform="rotate(15 535.8 153.9)"/>
<ellipse cx="546.7" cy="153.9" rx="2.8" ry="3.7" fill="none" stroke="#1a1a1a" stroke-width="1.242" transform="rotate(15 546.7 153.9)"/>
<ellipse cx="520.2" cy="162.2" rx="3.3" ry="4.3" fill="none" stroke="#1a1a1a" stroke-width="1.242" transform="rotate(15 520.2 162.2)"/>
<ellipse cx="520.4" cy="162.4" rx="2" ry="2.8" fill="none" stroke="#1a1a1a" stroke-width="0.966" transform="rotate(15 520.4 162.4)"/>
<ellipse cx="531" cy="137.2" rx="1.1" ry="1.3" fill="none" stroke="#1a1a1a" stroke-width="1.104"/>
<ellipse cx="523.3" cy="147.6" rx="1.1" ry="1.3" fill="none" stroke="#1a1a1a" stroke-width="1.104"/>
<ellipse cx="523.3" cy="171.1" rx="1.1" ry="1.3" fill="none" stroke="#1a1a1a" stroke-width="1.104"/>
<ellipse cx="552.5" cy="162.4" rx="1.1" ry="1.3" fill="none" stroke="#1a1a1a" stroke-width="1.104"/>
<path d="M526.6 140 L528.2 151 Q529.4 152 530.2 150.6 L529.2 139.8 Q527.8 138.6 526.6 140 Z" fill="none" stroke="#1a1a1a" stroke-width="1.104" stroke-linejoin="round" stroke-linecap="round" />
<path d="M525.9 154.9 L528.8 174.6 L546.9 163.6 Z" fill="none" stroke="#1a1a1a" stroke-width="1.242" stroke-linejoin="round" stroke-linecap="round" />
<path d="M529 159.6 L530.8 170.6 L541.2 164.2 Z" fill="none" stroke="#1a1a1a" stroke-width="1.104" stroke-linejoin="round" stroke-linecap="round" />
<path d="M533 158 Q536 163 541 163.6" fill="none" stroke="#1a1a1a" stroke-width="0.966" stroke-linejoin="round" stroke-linecap="round" />
<line x1="538.4" y1="155.8" x2="540.4" y2="161.2" stroke="#1a1a1a" stroke-width="0.966" />
<line x1="546" y1="157.4" x2="544.4" y2="161.8" stroke="#1a1a1a" stroke-width="0.966" />
<line x1="518.2" y1="152.6" x2="521.4" y2="153.8" stroke="#1a1a1a" stroke-width="1.656" />
<text x="534.2" y="96.4" font-size="13" fill="#222" stroke="#222" stroke-width="0.15" text-anchor="start">5</text>
<line x1="538.5" y1="97.8" x2="538.5" y2="130.8" stroke="#1a1a1a" stroke-width="1.104" />
<line x1="506" y1="151.4" x2="528.8" y2="138.6" stroke="#1a1a1a" stroke-width="1.104" />
<line x1="539.7" y1="132.6" x2="546.4" y2="128.7" stroke="#1a1a1a" stroke-width="1.104" />
<ellipse cx="551.9" cy="124.8" rx="4.2" ry="3" fill="#fff" stroke="#1a1a1a" stroke-width="1.173" transform="rotate(68 551.9 124.8)"/>
<ellipse cx="552.2" cy="124.8" rx="2.18" ry="1.5" fill="none" stroke="#1a1a1a" stroke-width="1.035" transform="rotate(68 552.2 124.8)"/>
<ellipse cx="552.6" cy="124.7" rx="4.07" ry="2.7" fill="none" stroke="#666" stroke-width="0.69" transform="rotate(68 552.6 124.7)"/>
<ellipse cx="560.9" cy="119.4" rx="4.2" ry="3" fill="#fff" stroke="#1a1a1a" stroke-width="1.173" transform="rotate(68 560.9 119.4)"/>
<ellipse cx="561.2" cy="119.4" rx="2.18" ry="1.5" fill="none" stroke="#1a1a1a" stroke-width="1.035" transform="rotate(68 561.2 119.4)"/>
<ellipse cx="561.6" cy="119.3" rx="4.07" ry="2.7" fill="none" stroke="#666" stroke-width="0.69" transform="rotate(68 561.6 119.3)"/>
<path d="M588.63 106.82 L568.7 116.51 Q566.59 115.59 567.17 113.36 L587.1 103.68" fill="#fff" stroke="#1a1a1a" stroke-width="1.173" stroke-linejoin="round" stroke-linecap="round" />
<line x1="568.97" y1="116.38" x2="567.89" y2="113.01" stroke="#333" stroke-width="0.759" />
<line x1="570.1" y1="115.83" x2="569.02" y2="112.47" stroke="#333" stroke-width="0.759" />
<line x1="571.22" y1="115.29" x2="570.14" y2="111.92" stroke="#333" stroke-width="0.759" />
<line x1="572.35" y1="114.74" x2="571.27" y2="111.37" stroke="#333" stroke-width="0.759" />
<line x1="573.47" y1="114.19" x2="572.39" y2="110.83" stroke="#333" stroke-width="0.759" />
<line x1="574.6" y1="113.65" x2="573.51" y2="110.28" stroke="#333" stroke-width="0.759" />
<line x1="575.72" y1="113.1" x2="574.64" y2="109.73" stroke="#333" stroke-width="0.759" />
<line x1="576.84" y1="112.55" x2="575.76" y2="109.19" stroke="#333" stroke-width="0.759" />
<path d="M588.87 107.33 L586.85 103.17 L587.03 100.98 L590.56 99.27 L592.07 101.1 L593.91 104.88 L593.98 106.94 L590.46 108.66 Z" fill="#fff" stroke="#1a1a1a" stroke-width="1.311" stroke-linejoin="round" stroke-linecap="round" />
<line x1="588.73" y1="105.76" x2="593.02" y2="103.68" stroke="#1a1a1a" stroke-width="0.828" />
<line x1="587.61" y1="102.8" x2="591.73" y2="101.03" stroke="#1a1a1a" stroke-width="0.828" />
<line x1="589.07" y1="109.56" x2="585.22" y2="101.63" stroke="#1a1a1a" stroke-width="1.518" />
<line x1="558.9" y1="150.6" x2="613.6" y2="119.8" stroke="#1a1a1a" stroke-width="1.104" />
<ellipse cx="620.5" cy="115.8" rx="4.2" ry="3" fill="#fff" stroke="#1a1a1a" stroke-width="1.173" transform="rotate(68 620.5 115.8)"/>
<ellipse cx="620.8" cy="115.8" rx="2.18" ry="1.5" fill="none" stroke="#1a1a1a" stroke-width="1.035" transform="rotate(68 620.8 115.8)"/>
<ellipse cx="621.2" cy="115.7" rx="4.07" ry="2.7" fill="none" stroke="#666" stroke-width="0.69" transform="rotate(68 621.2 115.7)"/>
<ellipse cx="630.5" cy="110.2" rx="4.2" ry="3" fill="#fff" stroke="#1a1a1a" stroke-width="1.173" transform="rotate(68 630.5 110.2)"/>
<ellipse cx="630.8" cy="110.2" rx="2.18" ry="1.5" fill="none" stroke="#1a1a1a" stroke-width="1.035" transform="rotate(68 630.8 110.2)"/>
<ellipse cx="631.2" cy="110.1" rx="4.07" ry="2.7" fill="none" stroke="#666" stroke-width="0.69" transform="rotate(68 631.2 110.1)"/>
<path d="M657.59 98.38 L637.69 107.82 Q635.59 106.89 636.19 104.66 L656.09 95.22" fill="#fff" stroke="#1a1a1a" stroke-width="1.173" stroke-linejoin="round" stroke-linecap="round" />
<line x1="637.96" y1="107.7" x2="636.91" y2="104.32" stroke="#333" stroke-width="0.759" />
<line x1="639.09" y1="107.16" x2="638.04" y2="103.78" stroke="#333" stroke-width="0.759" />
<line x1="640.22" y1="106.62" x2="639.17" y2="103.25" stroke="#333" stroke-width="0.759" />
<line x1="641.35" y1="106.09" x2="640.3" y2="102.71" stroke="#333" stroke-width="0.759" />
<line x1="642.48" y1="105.55" x2="641.43" y2="102.18" stroke="#333" stroke-width="0.759" />
<line x1="643.61" y1="105.02" x2="642.56" y2="101.64" stroke="#333" stroke-width="0.759" />
<line x1="644.74" y1="104.48" x2="643.69" y2="101.1" stroke="#333" stroke-width="0.759" />
<line x1="645.87" y1="103.94" x2="644.82" y2="100.57" stroke="#333" stroke-width="0.759" />
<path d="M657.83 98.89 L655.85 94.71 L656.05 92.53 L659.59 90.85 L661.09 92.69 L662.89 96.49 L662.94 98.55 L659.4 100.24 Z" fill="#fff" stroke="#1a1a1a" stroke-width="1.311" stroke-linejoin="round" stroke-linecap="round" />
<line x1="657.71" y1="97.32" x2="662.01" y2="95.28" stroke="#1a1a1a" stroke-width="0.828" />
<line x1="656.61" y1="94.35" x2="660.75" y2="92.62" stroke="#1a1a1a" stroke-width="0.828" />
<line x1="658.01" y1="101.13" x2="654.23" y2="93.16" stroke="#1a1a1a" stroke-width="1.518" />
<line x1="559.9" y1="159.6" x2="574.8" y2="151.6" stroke="#1a1a1a" stroke-width="1.104" />
<ellipse cx="579.4" cy="148.6" rx="4.2" ry="3" fill="#fff" stroke="#1a1a1a" stroke-width="1.173" transform="rotate(68 579.4 148.6)"/>
<ellipse cx="579.7" cy="148.6" rx="2.18" ry="1.5" fill="none" stroke="#1a1a1a" stroke-width="1.035" transform="rotate(68 579.7 148.6)"/>
<ellipse cx="580.1" cy="148.5" rx="4.07" ry="2.7" fill="none" stroke="#666" stroke-width="0.69" transform="rotate(68 580.1 148.5)"/>
<ellipse cx="587.7" cy="144" rx="4.2" ry="3" fill="#fff" stroke="#1a1a1a" stroke-width="1.173" transform="rotate(68 587.7 144)"/>
<ellipse cx="588" cy="144" rx="2.18" ry="1.5" fill="none" stroke="#1a1a1a" stroke-width="1.035" transform="rotate(68 588 144)"/>
<ellipse cx="588.4" cy="143.9" rx="4.07" ry="2.7" fill="none" stroke="#666" stroke-width="0.69" transform="rotate(68 588.4 143.9)"/>
<path d="M604.98 136.46 L594.56 141.06 Q592.48 140.06 593.14 137.86 L603.57 133.26" fill="#fff" stroke="#1a1a1a" stroke-width="1.173" stroke-linejoin="round" stroke-linecap="round" />
<line x1="594.83" y1="140.94" x2="593.87" y2="137.53" stroke="#333" stroke-width="0.759" />
<line x1="595.97" y1="140.43" x2="595.02" y2="137.03" stroke="#333" stroke-width="0.759" />
<line x1="597.12" y1="139.93" x2="596.16" y2="136.53" stroke="#333" stroke-width="0.759" />
<line x1="598.26" y1="139.42" x2="597.31" y2="136.02" stroke="#333" stroke-width="0.759" />
<line x1="599.4" y1="138.92" x2="598.45" y2="135.52" stroke="#333" stroke-width="0.759" />
<line x1="600.55" y1="138.42" x2="599.59" y2="135.01" stroke="#333" stroke-width="0.759" />
<line x1="601.69" y1="137.91" x2="600.74" y2="134.51" stroke="#333" stroke-width="0.759" />
<line x1="602.84" y1="137.41" x2="601.88" y2="134" stroke="#333" stroke-width="0.759" />
<path d="M605.21 136.97 L603.34 132.75 L603.61 130.56 L607.19 128.98 L608.64 130.87 L610.33 134.71 L610.33 136.78 L606.74 138.36 Z" fill="#fff" stroke="#1a1a1a" stroke-width="1.311" stroke-linejoin="round" stroke-linecap="round" />
<line x1="605.13" y1="135.4" x2="609.48" y2="133.48" stroke="#1a1a1a" stroke-width="0.828" />
<line x1="604.11" y1="132.41" x2="608.3" y2="130.79" stroke="#1a1a1a" stroke-width="0.828" />
<line x1="605.32" y1="139.22" x2="601.76" y2="131.15" stroke="#1a1a1a" stroke-width="1.518" />
<path d="M479 104.5 L492.2 187.6 L522 224.8" fill="none" stroke="#1a1a1a" stroke-width="1.104" stroke-linejoin="round" stroke-linecap="round" />
<ellipse cx="503.2" cy="189.1" rx="3.4" ry="4.3" fill="#fff" stroke="#1a1a1a" stroke-width="1.242" transform="rotate(-18 503.2 189.1)"/>
<ellipse cx="517.9" cy="198.6" rx="3.4" ry="4.3" fill="#fff" stroke="#1a1a1a" stroke-width="1.242" transform="rotate(-18 517.9 198.6)"/>
<ellipse cx="531.2" cy="221.6" rx="3.4" ry="4.3" fill="#fff" stroke="#1a1a1a" stroke-width="1.242" transform="rotate(-18 531.2 221.6)"/>
<line x1="492.2" y1="187.6" x2="499.8" y2="188.6" stroke="#1a1a1a" stroke-width="1.104" />
<line x1="508.2" y1="206" x2="514.6" y2="200.6" stroke="#1a1a1a" stroke-width="1.104" />
<line x1="522" y1="224.8" x2="527.8" y2="223.2" stroke="#1a1a1a" stroke-width="1.104" />
<path d="M506.6 187.7 L513.7 183.6 L513.7 166.4" fill="none" stroke="#1a1a1a" stroke-width="1.104" stroke-linejoin="round" stroke-linecap="round" />
<path d="M521.3 196.9 L529.4 192.2 L529.4 176.6" fill="none" stroke="#1a1a1a" stroke-width="1.104" stroke-linejoin="round" stroke-linecap="round" />
<path d="M534.8 219.4 L542.2 215.2 L542.2 175.6" fill="none" stroke="#1a1a1a" stroke-width="1.104" stroke-linejoin="round" stroke-linecap="round" />
<path d="M534.5 186.9 L534.5 194 L592.3 215.2 L582.7 242.6" fill="none" stroke="#1a1a1a" stroke-width="1.104" stroke-linejoin="round" stroke-linecap="round" />
<path d="M576.3 243.6 L575.6 249.4 Q579.6 252.8 583.9 250.4 L584.9 244.4" fill="#fff" stroke="#1a1a1a" stroke-width="1.242" stroke-linejoin="round" stroke-linecap="round" />
<ellipse cx="580.6" cy="243.8" rx="4.3" ry="2.2" fill="#fff" stroke="#1a1a1a" stroke-width="1.242" transform="rotate(8 580.6 243.8)"/>
<path d="M577.6 250.2 L573 258.6 L577.4 260 L581.4 250.6" fill="#fff" stroke="#1a1a1a" stroke-width="1.104" stroke-linejoin="round" stroke-linecap="round" />
<path d="M569.2 258.8 L566 271.8 Q569.5 276.6 576.4 274.7 L580.5 261.4" fill="#fff" stroke="#1a1a1a" stroke-width="1.311" stroke-linejoin="round" stroke-linecap="round" />
<ellipse cx="574.9" cy="259.9" rx="5.75" ry="2.6" fill="#fff" stroke="#1a1a1a" stroke-width="1.242" transform="rotate(13 574.9 259.9)"/>
<path d="M577.2 250.4 L573.6 257.8 Q575 259.2 577 258.8 L581 250.8" fill="#fff" stroke="#1a1a1a" stroke-width="1.104" stroke-linejoin="round" stroke-linecap="round" />
<ellipse cx="569.4" cy="279.4" rx="2.9" ry="1.25" fill="#fff" stroke="#1a1a1a" stroke-width="1.173" transform="rotate(12 569.4 279.4)"/>
<ellipse cx="568.6" cy="281.3" rx="2.9" ry="1.25" fill="#fff" stroke="#1a1a1a" stroke-width="1.173" transform="rotate(12 568.6 281.3)"/>
<ellipse cx="567.8" cy="283.2" rx="2.9" ry="1.25" fill="#fff" stroke="#1a1a1a" stroke-width="1.173" transform="rotate(12 567.8 283.2)"/>
<ellipse cx="567" cy="285.1" rx="2.9" ry="1.25" fill="#fff" stroke="#1a1a1a" stroke-width="1.173" transform="rotate(12 567 285.1)"/>
<ellipse cx="566.2" cy="287" rx="2.9" ry="1.25" fill="#fff" stroke="#1a1a1a" stroke-width="1.173" transform="rotate(12 566.2 287)"/>
<ellipse cx="565.4" cy="288.9" rx="2.9" ry="1.25" fill="#fff" stroke="#1a1a1a" stroke-width="1.173" transform="rotate(12 565.4 288.9)"/>
<ellipse cx="564.6" cy="290.8" rx="2.9" ry="1.25" fill="#fff" stroke="#1a1a1a" stroke-width="1.173" transform="rotate(12 564.6 290.8)"/>
<ellipse cx="563.8" cy="292.7" rx="2.9" ry="1.25" fill="#fff" stroke="#1a1a1a" stroke-width="1.173" transform="rotate(12 563.8 292.7)"/>
<ellipse cx="563" cy="294.6" rx="2.9" ry="1.25" fill="#fff" stroke="#1a1a1a" stroke-width="1.173" transform="rotate(12 563 294.6)"/>
<ellipse cx="560" cy="302.3" rx="6.9" ry="4.6" fill="#fff" stroke="#1a1a1a" stroke-width="1.242" transform="rotate(8 560 302.3)"/>
<ellipse cx="560" cy="302.3" rx="5.3" ry="3.2" fill="none" stroke="#1a1a1a" stroke-width="1.104" transform="rotate(8 560 302.3)"/>
<path d="M551 313 L548 322.6 L544.6 323.6 L544.2 328.6 L546 330.6 L545.6 336.4 Q549.5 340.6 556.4 338.2 L557.2 331.8 L560 329.6 L560.6 324.6 L558.6 323.8 L561 314.2" fill="#fff" stroke="#1a1a1a" stroke-width="1.311" stroke-linejoin="round" stroke-linecap="round" />
<ellipse cx="556" cy="312.8" rx="5.1" ry="2.5" fill="#fff" stroke="#1a1a1a" stroke-width="1.242" transform="rotate(10 556 312.8)"/>
<ellipse cx="556" cy="313" rx="3.6" ry="1.6" fill="none" stroke="#1a1a1a" stroke-width="0.966" transform="rotate(10 556 313)"/>
<path d="M548 322.6 Q553 326.6 558.6 323.8 M544.2 328.6 Q551 333.4 560 329.6 M546 330.6 Q551 334.8 557.2 331.8" fill="none" stroke="#1a1a1a" stroke-width="1.104" stroke-linejoin="round" stroke-linecap="round" />
<line x1="548.4" y1="325.2" x2="548.2" y2="330.6" stroke="#1a1a1a" stroke-width="0.966" />
<line x1="554" y1="326.6" x2="553.8" y2="332.6" stroke="#1a1a1a" stroke-width="0.966" />
<line x1="553.2" y1="314.8" x2="550.6" y2="323.6" stroke="#1a1a1a" stroke-width="0.828" />
<path d="M571.1 263.2 L550 257.2 L530.3 310.2 L547.3 316.8" fill="none" stroke="#1a1a1a" stroke-width="1.173" stroke-linejoin="round" stroke-linecap="round" />
<text x="518.2" y="277.4" font-size="13" fill="#222" stroke="#222" stroke-width="0.15" text-anchor="start">6</text>
<line x1="527.5" y1="275.4" x2="565.1" y2="290.5" stroke="#1a1a1a" stroke-width="1.104" />
<line x1="567" y1="291.4" x2="610" y2="365.1" stroke="#1a1a1a" stroke-width="1.104" />
<path d="M219.2 356 L219.2 391.5 A14.3 7.5 0 0 0 247.8 391.5 L247.8 344 Z" fill="#fff" stroke="#1a1a1a" stroke-width="1.311" stroke-linejoin="round" stroke-linecap="round" />
<path d="M283.2 318 L283.2 352.5 A14.6 7.5 0 0 0 312.4 352.5 L312.4 305 Z" fill="#fff" stroke="#1a1a1a" stroke-width="1.311" stroke-linejoin="round" stroke-linecap="round" />
<path d="M234 347.6 C239.69 354.06 252.15 347.83 250.4 339.4 Z" fill="#fff" stroke="#1a1a1a" stroke-width="1.311" stroke-linejoin="round" stroke-linecap="round" />
<path d="M235 347.9 C238.97 352.63 251.44 346.39 249.9 340" fill="none" stroke="#555" stroke-width="0.828" stroke-linejoin="round" stroke-linecap="round" />
<path d="M282.6 319.6 C291.62 326.82 316.4 313.29 315.2 301.8 Z" fill="#fff" stroke="#1a1a1a" stroke-width="1.311" stroke-linejoin="round" stroke-linecap="round" />
<path d="M283.6 319.9 C290.85 325.42 315.63 311.89 314.7 302.4" fill="none" stroke="#555" stroke-width="0.828" stroke-linejoin="round" stroke-linecap="round" />
<path d="M200.7 314.1 L287.4 264.9 L316.8 300 L233.4 343.4 L232.6 349.6 L227.2 351.6 L195.2 360.8 Q190 358.8 188.4 356 L185.8 349.8 L186.6 334.9 L191.6 328.2 Z" fill="#fff" stroke="#1a1a1a" stroke-width="1.311" stroke-linejoin="round" stroke-linecap="round" />
<path d="M201.6 320.4 Q205 321 209.9 326.6 L219.8 335.7 Q225.4 341.6 226.2 345.6 L226.6 351.6 M201.6 320.4 L187.6 334.9" fill="none" stroke="#1a1a1a" stroke-width="1.242" stroke-linejoin="round" stroke-linecap="round" />
<path d="M203.2 315.4 Q208.2 317.4 213 323 L222 332 Q229 339.6 232.4 347.4" fill="none" stroke="#1a1a1a" stroke-width="1.173" stroke-linejoin="round" stroke-linecap="round" />
<line x1="205.55" y1="314.95" x2="289.45" y2="267.35" stroke="#1a1a1a" stroke-width="1.104" />
<line x1="218.43" y1="309.46" x2="242.5" y2="338.21" stroke="#1a1a1a" stroke-width="1.311" />
<line x1="222.43" y1="307.19" x2="246.5" y2="335.94" stroke="#1a1a1a" stroke-width="1.311" />
<path d="M216.01 309.02 L218.96 307.35 L219.75 310.74 Z" fill="none" stroke="#1a1a1a" stroke-width="0.966" stroke-linejoin="round" stroke-linecap="round" />
<line x1="217.4" y1="308.23" x2="221.4" y2="305.96" stroke="#1a1a1a" stroke-width="0.966" />
<line x1="227.65" y1="304.22" x2="251.98" y2="333.27" stroke="#1a1a1a" stroke-width="1.311" />
<line x1="231.66" y1="301.95" x2="255.99" y2="331" stroke="#1a1a1a" stroke-width="1.311" />
<path d="M225.24 303.79 L228.19 302.11 L228.98 305.51 Z" fill="none" stroke="#1a1a1a" stroke-width="0.966" stroke-linejoin="round" stroke-linecap="round" />
<line x1="226.63" y1="303" x2="230.63" y2="300.73" stroke="#1a1a1a" stroke-width="0.966" />
<line x1="236.72" y1="299.08" x2="261.29" y2="328.43" stroke="#1a1a1a" stroke-width="1.311" />
<line x1="240.72" y1="296.81" x2="265.3" y2="326.16" stroke="#1a1a1a" stroke-width="1.311" />
<path d="M234.3 298.65 L237.25 296.97 L238.05 300.37 Z" fill="none" stroke="#1a1a1a" stroke-width="0.966" stroke-linejoin="round" stroke-linecap="round" />
<line x1="235.69" y1="297.86" x2="239.69" y2="295.59" stroke="#1a1a1a" stroke-width="0.966" />
<line x1="246.53" y1="293.51" x2="271.38" y2="323.18" stroke="#1a1a1a" stroke-width="1.311" />
<line x1="250.53" y1="291.24" x2="275.38" y2="320.91" stroke="#1a1a1a" stroke-width="1.311" />
<path d="M244.11 293.08 L247.07 291.4 L247.86 294.8 Z" fill="none" stroke="#1a1a1a" stroke-width="0.966" stroke-linejoin="round" stroke-linecap="round" />
<line x1="245.5" y1="292.29" x2="249.51" y2="290.02" stroke="#1a1a1a" stroke-width="0.966" />
<line x1="275.48" y1="277.09" x2="301.12" y2="307.7" stroke="#1a1a1a" stroke-width="1.311" />
<line x1="279.48" y1="274.82" x2="305.12" y2="305.43" stroke="#1a1a1a" stroke-width="1.311" />
<path d="M273.06 276.66 L276.02 274.98 L276.81 278.37 Z" fill="none" stroke="#1a1a1a" stroke-width="0.966" stroke-linejoin="round" stroke-linecap="round" />
<line x1="274.45" y1="275.87" x2="278.45" y2="273.6" stroke="#1a1a1a" stroke-width="0.966" />
<line x1="233.4" y1="343.4" x2="316.8" y2="300" stroke="#1a1a1a" stroke-width="1.932" />
<path d="M231.93 341.31 L235.01 342.56 L236.79 341.64 L236.54 338.9 Z" fill="#fff" stroke="#1a1a1a" stroke-width="1.104" stroke-linejoin="round" stroke-linecap="round" />
<path d="M276.96 317.87 L280.05 319.12 L281.83 318.2 L281.57 315.47 Z" fill="#fff" stroke="#1a1a1a" stroke-width="1.104" stroke-linejoin="round" stroke-linecap="round" />
<path d="M286.14 313.1 L289.22 314.35 L291 313.43 L290.75 310.69 Z" fill="#fff" stroke="#1a1a1a" stroke-width="1.104" stroke-linejoin="round" stroke-linecap="round" />
<path d="M304.48 303.55 L307.57 304.8 L309.35 303.88 L309.1 301.15 Z" fill="#fff" stroke="#1a1a1a" stroke-width="1.104" stroke-linejoin="round" stroke-linecap="round" />
<line x1="285" y1="267.6" x2="314.4" y2="302.2" stroke="#1a1a1a" stroke-width="1.104" />
<ellipse cx="316.6" cy="302.6" rx="1.4" ry="2.1" fill="#444" stroke="#1a1a1a" stroke-width="1.242" transform="rotate(-40 316.6 302.6)"/>
<path d="M259.4 290.6 Q258.4 289 260.4 288 L269.6 283.6 Q271.4 283 272.4 284.6 L276 290.2 Q276.8 291.8 275 292.8 L266 297.6 Q264.2 298.2 263 296.6 Z" fill="none" stroke="#1a1a1a" stroke-width="1.242" stroke-linejoin="round" stroke-linecap="round" />
<ellipse cx="191.6" cy="348.2" rx="3.4" ry="4.3" fill="none" stroke="#1a1a1a" stroke-width="1.242" transform="rotate(15 191.6 348.2)"/>
<ellipse cx="191.7" cy="348.4" rx="2.1" ry="2.9" fill="none" stroke="#1a1a1a" stroke-width="0.966" transform="rotate(15 191.7 348.4)"/>
<ellipse cx="206.2" cy="339.5" rx="3" ry="4" fill="none" stroke="#1a1a1a" stroke-width="1.242" transform="rotate(15 206.2 339.5)"/>
<ellipse cx="217.4" cy="340.7" rx="3" ry="4" fill="none" stroke="#1a1a1a" stroke-width="1.242" transform="rotate(15 217.4 340.7)"/>
<ellipse cx="194.1" cy="334.9" rx="1.1" ry="1.4" fill="none" stroke="#1a1a1a" stroke-width="1.104"/>
<ellipse cx="194.6" cy="357.3" rx="1.1" ry="1.4" fill="none" stroke="#1a1a1a" stroke-width="1.104"/>
<ellipse cx="223.2" cy="349" rx="1.1" ry="1.4" fill="none" stroke="#1a1a1a" stroke-width="1.104"/>
<ellipse cx="201.9" cy="324.1" rx="1.5" ry="1.8" fill="none" stroke="#1a1a1a" stroke-width="1.104"/>
<ellipse cx="201.9" cy="324.1" rx="0.7" ry="0.8" fill="none" stroke="#1a1a1a" stroke-width="0.828"/>
<line x1="289" y1="255.2" x2="289" y2="296.4" stroke="#1a1a1a" stroke-width="1.104" stroke-dasharray="3 1.6"/>
<line x1="276.6" y1="260.8" x2="289" y2="255" stroke="#1a1a1a" stroke-width="0.966" />
<path d="M286.6 291.6 L289 288.6 L291.4 292.4 L289 296 Z" fill="none" stroke="#1a1a1a" stroke-width="0.966" stroke-linejoin="round" stroke-linecap="round" />
<ellipse cx="258.3" cy="269.9" rx="4.4" ry="4.18" fill="#fff" stroke="#1a1a1a" stroke-width="1.656"/>
<ellipse cx="258.3" cy="269.9" rx="2.42" ry="2.2" fill="none" stroke="#1a1a1a" stroke-width="1.242"/>
<line x1="254.78" y1="268.58" x2="261.82" y2="271.22" stroke="#1a1a1a" stroke-width="0.828" />
<line x1="256.98" y1="273.42" x2="259.62" y2="266.38" stroke="#1a1a1a" stroke-width="0.828" />
<ellipse cx="269.3" cy="264.1" rx="4.2" ry="3" fill="#fff" stroke="#1a1a1a" stroke-width="1.173" transform="rotate(72 269.3 264.1)"/>
<ellipse cx="269.6" cy="264.1" rx="2.18" ry="1.5" fill="none" stroke="#1a1a1a" stroke-width="1.035" transform="rotate(72 269.6 264.1)"/>
<ellipse cx="270" cy="264" rx="4.07" ry="2.7" fill="none" stroke="#666" stroke-width="0.69" transform="rotate(72 270 264)"/>
<text x="230.2" y="258.4" font-size="13" fill="#222" stroke="#222" stroke-width="0.15" text-anchor="start">12</text>
<line x1="236.5" y1="260.2" x2="236.5" y2="292.4" stroke="#1a1a1a" stroke-width="1.104" />
<line x1="200.8" y1="264.5" x2="235.9" y2="293" stroke="#1a1a1a" stroke-width="1.104" />
<line x1="233.7" y1="400.5" x2="233.7" y2="431" stroke="#1a1a1a" stroke-width="1.104" />
<text x="230.2" y="442.8" font-size="13" fill="#222" stroke="#222" stroke-width="0.15" text-anchor="start">1</text>
<line x1="313.2" y1="339.5" x2="337" y2="339.5" stroke="#1a1a1a" stroke-width="1.104" />
<text x="338.8" y="344.6" font-size="13" fill="#222" stroke="#222" stroke-width="0.15" text-anchor="start">1</text>
<line x1="297.4" y1="291.6" x2="359.4" y2="258.3" stroke="#1a1a1a" stroke-width="1.104" />
<ellipse cx="308.2" cy="279.9" rx="3.5" ry="4.9" fill="#fff" stroke="#1a1a1a" stroke-width="1.242" transform="rotate(-17 308.2 279.9)"/>
<ellipse cx="318.1" cy="274.1" rx="3.5" ry="4.9" fill="#fff" stroke="#1a1a1a" stroke-width="1.242" transform="rotate(-17 318.1 274.1)"/>
<ellipse cx="346.4" cy="256.6" rx="3.5" ry="4.9" fill="#fff" stroke="#1a1a1a" stroke-width="1.242" transform="rotate(-17 346.4 256.6)"/>
<ellipse cx="355.5" cy="252" rx="3.5" ry="4.9" fill="#fff" stroke="#1a1a1a" stroke-width="1.242" transform="rotate(-17 355.5 252)"/>
<g transform="translate(328.4 269) rotate(-33.5)">
<path d="M0 -6 L9 -4.6 Q12.6 -3.8 12.6 0 Q12.6 3.8 9 4.6 L0 6 Z" fill="#fff" stroke="#1a1a1a" stroke-width="0.9"/>
<path d="M2.5 -5.53 A3.04 5.53 0 0 1 2.5 5.53" fill="none" stroke="#1a1a1a" stroke-width="0.8"/>
<path d="M4.6 -5.13 A2.82 5.13 0 0 1 4.6 5.13" fill="none" stroke="#1a1a1a" stroke-width="0.8"/>
<path d="M6.6 -4.75 A2.61 4.75 0 0 1 6.6 4.75" fill="none" stroke="#1a1a1a" stroke-width="0.8"/>
<path d="M8.6 -4.37 A2.4 4.37 0 0 1 8.6 4.37" fill="none" stroke="#1a1a1a" stroke-width="0.8"/>
<path d="M10.4 -4.02 A2.21 4.02 0 0 1 10.4 4.02" fill="none" stroke="#1a1a1a" stroke-width="0.8"/>
<ellipse cx="0" cy="0" rx="3.4" ry="6" fill="#fff" stroke="#1a1a1a" stroke-width="0.95"/>
<ellipse cx="0" cy="0" rx="2.4" ry="4.4" fill="none" stroke="#1a1a1a" stroke-width="0.8"/>
<ellipse cx="0" cy="0" rx="1.3" ry="2.6" fill="none" stroke="#1a1a1a" stroke-width="0.8"/>
</g>
<line x1="308.2" y1="284.2" x2="353" y2="304" stroke="#1a1a1a" stroke-width="1.104" />
<line x1="319" y1="278.6" x2="353" y2="304" stroke="#1a1a1a" stroke-width="1.104" />
<line x1="347.2" y1="261" x2="353" y2="304" stroke="#1a1a1a" stroke-width="1.104" />
<line x1="355.5" y1="256.8" x2="353" y2="304" stroke="#1a1a1a" stroke-width="1.104" />
<path d="M144.2 354.3 L149 357.3 L162.7 368.2 L169.5 377.8 L170.6 382.6 L166.8 386.2 L160 388 L150 380 L122.4 381.9 L140.6 356 Z" fill="#fff" stroke="#1a1a1a" stroke-width="1.311" stroke-linejoin="round" stroke-linecap="round" />
<path d="M142.6 357.6 L125 381.6" fill="none" stroke="#1a1a1a" stroke-width="1.104" stroke-linejoin="round" stroke-linecap="round" />
<path d="M146.6 356.4 L160.6 368.8 L166.6 378.2 L167.4 385.6" fill="none" stroke="#1a1a1a" stroke-width="1.104" stroke-linejoin="round" stroke-linecap="round" />
<ellipse cx="142.3" cy="359.4" rx="1.3" ry="1.5" fill="none" stroke="#1a1a1a" stroke-width="1.104"/>
<ellipse cx="163.1" cy="381.9" rx="1.3" ry="1.6" fill="none" stroke="#1a1a1a" stroke-width="1.104"/>
<path d="M121.7 382.6 L143.5 366.2 L158.6 372.3 L159.3 409.3 L155.9 414.7 L149 416.1 L146.3 416.1 L140.8 416.8 L123 407.2 L116.9 397.6 L116.9 394.2 Z" fill="#fff" stroke="#1a1a1a" stroke-width="1.311" stroke-linejoin="round" stroke-linecap="round" />
<path d="M121.7 382.6 L137.4 387.4 Q140.8 389.4 142.2 392.9 L147.7 405.2 L148.3 412 L146.3 416.1" fill="none" stroke="#1a1a1a" stroke-width="1.311" stroke-linejoin="round" stroke-linecap="round" />
<path d="M123.6 385.8 L136 389.6 Q138.6 391 139.8 394 L144.6 405.6 L144.8 411.4 M120.4 388.4 L119.2 396.8 L124.6 405.4" fill="none" stroke="#1a1a1a" stroke-width="1.035" stroke-linejoin="round" stroke-linecap="round" />
<path d="M137.4 387.4 L158.4 373 M142.2 392.9 L150.4 387.4" fill="none" stroke="#1a1a1a" stroke-width="1.104" stroke-linejoin="round" stroke-linecap="round" />
<path d="M148.3 412 L151 409.6 L151 401 L158.8 397" fill="none" stroke="#1a1a1a" stroke-width="1.104" stroke-linejoin="round" stroke-linecap="round" />
<path d="M151 401 L147.6 399" fill="none" stroke="#1a1a1a" stroke-width="0.966" stroke-linejoin="round" stroke-linecap="round" />
<ellipse cx="129.2" cy="394.9" rx="5.9" ry="6.4" fill="none" stroke="#1a1a1a" stroke-width="1.104" transform="rotate(15 129.2 394.9)"/>
<ellipse cx="129.2" cy="394.9" rx="3.5" ry="3.8" fill="none" stroke="#1a1a1a" stroke-width="1.242" transform="rotate(15 129.2 394.9)"/>
<ellipse cx="129.4" cy="394.9" rx="1.7" ry="1.9" fill="none" stroke="#1a1a1a" stroke-width="1.104"/>
<path d="M121.7 401.7 L140.8 409.3 M123 404 L141 411.6" fill="none" stroke="#1a1a1a" stroke-width="1.104" stroke-linejoin="round" stroke-linecap="round" />
<line x1="122.6" y1="402.2" x2="123.1" y2="404.4" stroke="#1a1a1a" stroke-width="0.828" />
<line x1="124.8" y1="403.07" x2="125.3" y2="405.27" stroke="#1a1a1a" stroke-width="0.828" />
<line x1="127" y1="403.95" x2="127.5" y2="406.15" stroke="#1a1a1a" stroke-width="0.828" />
<line x1="129.2" y1="404.82" x2="129.7" y2="407.02" stroke="#1a1a1a" stroke-width="0.828" />
<line x1="131.4" y1="405.7" x2="131.9" y2="407.9" stroke="#1a1a1a" stroke-width="0.828" />
<line x1="133.6" y1="406.57" x2="134.1" y2="408.77" stroke="#1a1a1a" stroke-width="0.828" />
<line x1="135.8" y1="407.45" x2="136.3" y2="409.65" stroke="#1a1a1a" stroke-width="0.828" />
<line x1="138" y1="408.32" x2="138.5" y2="410.52" stroke="#1a1a1a" stroke-width="0.828" />
<line x1="140.2" y1="409.2" x2="140.7" y2="411.4" stroke="#1a1a1a" stroke-width="0.828" />
<ellipse cx="121.4" cy="386.8" rx="0.9" ry="1" fill="none" stroke="#1a1a1a" stroke-width="0.966"/>
<ellipse cx="118.4" cy="396.4" rx="0.9" ry="1" fill="none" stroke="#1a1a1a" stroke-width="0.966"/>
<ellipse cx="138" cy="391.4" rx="0.9" ry="1" fill="none" stroke="#1a1a1a" stroke-width="0.966"/>
<ellipse cx="143.4" cy="408.2" rx="0.9" ry="1" fill="none" stroke="#1a1a1a" stroke-width="0.966"/>
<ellipse cx="125.4" cy="404.8" rx="0.9" ry="1" fill="none" stroke="#1a1a1a" stroke-width="0.966"/>
<ellipse cx="155.9" cy="393.5" rx="2.6" ry="3" fill="#fff" stroke="#1a1a1a" stroke-width="1.794"/>
<ellipse cx="155.9" cy="393.5" rx="1" ry="1.2" fill="none" stroke="#1a1a1a" stroke-width="1.104"/>
<line x1="150.4" y1="387.4" x2="165.6" y2="397.6" stroke="#1a1a1a" stroke-width="0.966" />
<ellipse cx="167.1" cy="398.6" rx="1.3" ry="1.6" fill="none" stroke="#1a1a1a" stroke-width="1.656"/>
<path d="M51.4 445.7 L59.2 439.7 L59.2 431.9 L60.4 429.5 L68.1 421.7 L71.7 413.9 L77.1 409.2 L80.1 403.2 Q82.6 401.4 85.5 401.7 L98.7 409.2 L104.6 415.7 L108.2 425.9 L111.2 434.3 Q111.6 436.6 110.6 437.3 L107 439.7 L96.3 447.5 L97.4 449.6 L86.6 457 L75.6 461 L69.4 459.8 L61.4 454.4 L51.4 450.4 Z" fill="#fff" stroke="#1a1a1a" stroke-width="1.449" stroke-linejoin="round" stroke-linecap="round" />
<path d="M51.4 448.1 L61.6 451.6 L69.3 457 L74.7 458.2 L85.5 454 L96.3 447.5" fill="none" stroke="#1a1a1a" stroke-width="1.311" stroke-linejoin="round" stroke-linecap="round" />
<path d="M53.8 446.3 L62.2 449.8 L69.9 454.6 L75.3 455.8 L84.3 452.2 L93.9 446.3" fill="none" stroke="#1a1a1a" stroke-width="1.035" stroke-linejoin="round" stroke-linecap="round" />
<path d="M61.6 451.6 L61.4 454.4 M69.3 457 L69.4 459.8 M85.5 454 L86.6 457" fill="none" stroke="#1a1a1a" stroke-width="0.966" stroke-linejoin="round" stroke-linecap="round" />
<path d="M82.5 405 Q85 404.6 87.9 406.2 L98.7 412.8 L103.4 419.9 L107 430.7 L108.2 435.5 L106 438.4" fill="none" stroke="#1a1a1a" stroke-width="1.311" stroke-linejoin="round" stroke-linecap="round" />
<ellipse cx="82.4" cy="407.4" rx="1.1" ry="1.2" fill="none" stroke="#1a1a1a" stroke-width="1.104"/>
<ellipse cx="99.4" cy="415.6" rx="1" ry="1.3" fill="none" stroke="#1a1a1a" stroke-width="1.104"/>
<path d="M71.7 413.9 Q70.4 418.4 72.6 421.6 L79 418.6 M73.2 413.2 L77.4 416.4" fill="none" stroke="#1a1a1a" stroke-width="1.173" stroke-linejoin="round" stroke-linecap="round" />
<path d="M81.9 408 L74 424 L69.9 443.9 M87.3 411.6 L80.7 421.7 L71.7 446.3" fill="none" stroke="#1a1a1a" stroke-width="1.311" stroke-linejoin="round" stroke-linecap="round" />
<path d="M84.6 409.4 L77.4 423 L70.8 445" fill="none" stroke="#444" stroke-width="0.828" stroke-linejoin="round" stroke-linecap="round" />
<path d="M68.1 421.7 L66.4 426 L63 441 M60.4 429.5 L62.4 444" fill="none" stroke="#1a1a1a" stroke-width="1.104" stroke-linejoin="round" stroke-linecap="round" />
<line x1="59.5" y1="430.9" x2="63.3" y2="429.7" stroke="#1a1a1a" stroke-width="0.966" />
<line x1="59.9" y1="432.5" x2="63.7" y2="431.3" stroke="#1a1a1a" stroke-width="0.966" />
<line x1="60.3" y1="434.1" x2="64.1" y2="432.9" stroke="#1a1a1a" stroke-width="0.966" />
<line x1="60.7" y1="435.7" x2="64.5" y2="434.5" stroke="#1a1a1a" stroke-width="0.966" />
<line x1="61.1" y1="437.3" x2="64.9" y2="436.1" stroke="#1a1a1a" stroke-width="0.966" />
<line x1="61.5" y1="438.9" x2="65.3" y2="437.7" stroke="#1a1a1a" stroke-width="0.966" />
<line x1="61.9" y1="440.5" x2="65.7" y2="439.3" stroke="#1a1a1a" stroke-width="0.966" />
<line x1="62.3" y1="442.1" x2="66.1" y2="440.9" stroke="#1a1a1a" stroke-width="0.966" />
<path d="M59.4 431.2 L62.2 442.6 M63.4 429.6 L66.2 441" fill="none" stroke="#1a1a1a" stroke-width="0.966" stroke-linejoin="round" stroke-linecap="round" />
<path d="M90.9 411 L91.5 417.5 L101 421.7 M91.5 417.5 L81.9 424.7 L93.9 428.3 L101.6 422.4 M93.9 428.3 L91.5 440.3 L85.5 446.3 L74.7 441.5" fill="none" stroke="#1a1a1a" stroke-width="1.173" stroke-linejoin="round" stroke-linecap="round" />
<path d="M91.5 440.3 L104.6 432.4" fill="none" stroke="#1a1a1a" stroke-width="1.104" stroke-linejoin="round" stroke-linecap="round" />
<path d="M81.9 431.3 Q84 429.4 86.1 431.9 L87.6 435.4" fill="none" stroke="#1a1a1a" stroke-width="1.173" stroke-linejoin="round" stroke-linecap="round" />
<line x1="83.7" y1="435.1" x2="86.9" y2="436.5" stroke="#1a1a1a" stroke-width="0.966" />
<line x1="82.85" y1="436.8" x2="86.05" y2="438.2" stroke="#1a1a1a" stroke-width="0.966" />
<line x1="82" y1="438.5" x2="85.2" y2="439.9" stroke="#1a1a1a" stroke-width="0.966" />
<line x1="81.15" y1="440.2" x2="84.35" y2="441.6" stroke="#1a1a1a" stroke-width="0.966" />
<line x1="80.3" y1="441.9" x2="83.5" y2="443.3" stroke="#1a1a1a" stroke-width="0.966" />
<line x1="79.45" y1="443.6" x2="82.65" y2="445" stroke="#1a1a1a" stroke-width="0.966" />
<line x1="78.6" y1="445.3" x2="81.8" y2="446.7" stroke="#1a1a1a" stroke-width="0.966" />
<line x1="77.75" y1="447" x2="80.95" y2="448.4" stroke="#1a1a1a" stroke-width="0.966" />
<line x1="76.9" y1="448.7" x2="80.1" y2="450.1" stroke="#1a1a1a" stroke-width="0.966" />
<path d="M76 439 L84 441.4 M74.6 444 L82 446.4" fill="none" stroke="#1a1a1a" stroke-width="0.966" stroke-linejoin="round" stroke-linecap="round" />
<ellipse cx="90.3" cy="445.1" rx="1.1" ry="1.3" fill="none" stroke="#1a1a1a" stroke-width="1.242"/>
<line x1="89" y1="442.6" x2="91.6" y2="447.6" stroke="#1a1a1a" stroke-width="0.966" />
<path d="M78 460.4 Q88 460.6 97.4 450" fill="none" stroke="#1a1a1a" stroke-width="1.104" stroke-linejoin="round" stroke-linecap="round" />
<text x="29" y="392.8" font-size="13" fill="#222" stroke="#222" stroke-width="0.15" text-anchor="start">4</text>
<line x1="42.5" y1="394.1" x2="70.7" y2="413.2" stroke="#1a1a1a" stroke-width="1.104" />
<line x1="68" y1="365" x2="117.5" y2="418.9" stroke="#1a1a1a" stroke-width="1.104" />
<line x1="107.4" y1="408.2" x2="110.8" y2="406.4" stroke="#1a1a1a" stroke-width="1.104" />
<line x1="117.5" y1="418.9" x2="119.2" y2="418.4" stroke="#1a1a1a" stroke-width="1.104" />
<ellipse cx="114" cy="404.8" rx="3.6" ry="4.5" fill="#fff" stroke="#1a1a1a" stroke-width="1.242" transform="rotate(-15 114 404.8)"/>
<ellipse cx="120.7" cy="418.2" rx="1.7" ry="2" fill="#fff" stroke="#1a1a1a" stroke-width="1.242"/>
<line x1="117.4" y1="402.8" x2="127.8" y2="397" stroke="#1a1a1a" stroke-width="1.104" />
<line x1="77.4" y1="461" x2="77.4" y2="479" stroke="#1a1a1a" stroke-width="1.104" />
<path d="M95.19 383.45 L111.47 374.78 Q113.59 375.58 113.07 377.78 L96.79 386.46" fill="#fff" stroke="#1a1a1a" stroke-width="1.173" stroke-linejoin="round" stroke-linecap="round" />
<line x1="111.21" y1="374.92" x2="112.36" y2="378.16" stroke="#333" stroke-width="0.759" />
<line x1="110.1" y1="375.51" x2="111.26" y2="378.75" stroke="#333" stroke-width="0.759" />
<line x1="109" y1="376.1" x2="110.16" y2="379.33" stroke="#333" stroke-width="0.759" />
<line x1="107.9" y1="376.69" x2="109.05" y2="379.92" stroke="#333" stroke-width="0.759" />
<line x1="106.79" y1="377.27" x2="107.95" y2="380.51" stroke="#333" stroke-width="0.759" />
<line x1="105.69" y1="377.86" x2="106.85" y2="381.1" stroke="#333" stroke-width="0.759" />
<line x1="104.59" y1="378.45" x2="105.74" y2="381.68" stroke="#333" stroke-width="0.759" />
<line x1="103.48" y1="379.04" x2="104.64" y2="382.27" stroke="#333" stroke-width="0.759" />
<path d="M95.01 383.11 L96.97 386.8 L96.86 388.8 L93.65 390.51 L92.2 388.91 L90.42 385.56 L90.3 383.68 L93.51 381.97 Z" fill="#fff" stroke="#1a1a1a" stroke-width="1.311" stroke-linejoin="round" stroke-linecap="round" />
<line x1="95.17" y1="384.53" x2="91.27" y2="386.61" stroke="#1a1a1a" stroke-width="0.828" />
<line x1="96.28" y1="387.17" x2="92.52" y2="388.95" stroke="#1a1a1a" stroke-width="0.828" />
<ellipse cx="117.2" cy="374.4" rx="3.7" ry="2.6" fill="#fff" stroke="#1a1a1a" stroke-width="1.173" transform="rotate(70 117.2 374.4)"/>
<ellipse cx="117.4" cy="374.4" rx="1.85" ry="1.17" fill="none" stroke="#1a1a1a" stroke-width="0.966" transform="rotate(70 117.4 374.4)"/>
<ellipse cx="123" cy="371.2" rx="3.7" ry="2.6" fill="#fff" stroke="#1a1a1a" stroke-width="1.173" transform="rotate(70 123 371.2)"/>
<ellipse cx="123.2" cy="371.2" rx="1.85" ry="1.17" fill="none" stroke="#1a1a1a" stroke-width="0.966" transform="rotate(70 123.2 371.2)"/>
<line x1="126" y1="369.6" x2="140.8" y2="358.4" stroke="#1a1a1a" stroke-width="1.104" />
<path d="M15.45 444.91 L31.29 436.76 Q33.4 437.59 32.84 439.79 L17 447.93" fill="#fff" stroke="#1a1a1a" stroke-width="1.173" stroke-linejoin="round" stroke-linecap="round" />
<line x1="31.02" y1="436.9" x2="32.13" y2="440.15" stroke="#333" stroke-width="0.759" />
<line x1="29.91" y1="437.47" x2="31.02" y2="440.72" stroke="#333" stroke-width="0.759" />
<line x1="28.8" y1="438.04" x2="29.91" y2="441.3" stroke="#333" stroke-width="0.759" />
<line x1="27.69" y1="438.61" x2="28.8" y2="441.87" stroke="#333" stroke-width="0.759" />
<line x1="26.58" y1="439.19" x2="27.69" y2="442.44" stroke="#333" stroke-width="0.759" />
<line x1="25.46" y1="439.76" x2="26.57" y2="443.01" stroke="#333" stroke-width="0.759" />
<line x1="24.35" y1="440.33" x2="25.46" y2="443.58" stroke="#333" stroke-width="0.759" />
<line x1="23.24" y1="440.9" x2="24.35" y2="444.15" stroke="#333" stroke-width="0.759" />
<path d="M15.27 444.56 L17.18 448.28 L17.04 450.28 L13.8 451.94 L12.38 450.32 L10.64 446.94 L10.56 445.06 L13.79 443.4 Z" fill="#fff" stroke="#1a1a1a" stroke-width="1.311" stroke-linejoin="round" stroke-linecap="round" />
<line x1="15.41" y1="445.98" x2="11.48" y2="448.01" stroke="#1a1a1a" stroke-width="0.828" />
<line x1="16.49" y1="448.64" x2="12.7" y2="450.37" stroke="#1a1a1a" stroke-width="0.828" />
<ellipse cx="37.4" cy="435.4" rx="3.7" ry="2.6" fill="#fff" stroke="#1a1a1a" stroke-width="1.173" transform="rotate(70 37.4 435.4)"/>
<ellipse cx="37.6" cy="435.4" rx="1.85" ry="1.17" fill="none" stroke="#1a1a1a" stroke-width="0.966" transform="rotate(70 37.6 435.4)"/>
<ellipse cx="44.8" cy="431" rx="3.7" ry="2.6" fill="#fff" stroke="#1a1a1a" stroke-width="1.173" transform="rotate(70 44.8 431)"/>
<ellipse cx="45" cy="431" rx="1.85" ry="1.17" fill="none" stroke="#1a1a1a" stroke-width="0.966" transform="rotate(70 45 431)"/>
<line x1="48.6" y1="428.8" x2="79.8" y2="409.9" stroke="#1a1a1a" stroke-width="1.104" />
<path d="M22.23 483.9 L38.68 475.37 Q40.8 476.19 40.25 478.39 L23.8 486.92" fill="#fff" stroke="#1a1a1a" stroke-width="1.173" stroke-linejoin="round" stroke-linecap="round" />
<line x1="38.42" y1="475.51" x2="39.54" y2="478.75" stroke="#333" stroke-width="0.759" />
<line x1="37.31" y1="476.08" x2="38.43" y2="479.33" stroke="#333" stroke-width="0.759" />
<line x1="36.2" y1="476.66" x2="37.32" y2="479.9" stroke="#333" stroke-width="0.759" />
<line x1="35.09" y1="477.23" x2="36.21" y2="480.48" stroke="#333" stroke-width="0.759" />
<line x1="33.98" y1="477.81" x2="35.1" y2="481.06" stroke="#333" stroke-width="0.759" />
<line x1="32.87" y1="478.38" x2="33.99" y2="481.63" stroke="#333" stroke-width="0.759" />
<line x1="31.76" y1="478.96" x2="32.88" y2="482.21" stroke="#333" stroke-width="0.759" />
<line x1="30.65" y1="479.53" x2="31.77" y2="482.78" stroke="#333" stroke-width="0.759" />
<path d="M22.05 483.55 L23.98 487.26 L23.84 489.26 L20.61 490.93 L19.19 489.32 L17.44 485.94 L17.34 484.07 L20.57 482.39 Z" fill="#fff" stroke="#1a1a1a" stroke-width="1.311" stroke-linejoin="round" stroke-linecap="round" />
<line x1="22.2" y1="484.97" x2="18.28" y2="487.01" stroke="#1a1a1a" stroke-width="0.828" />
<line x1="23.29" y1="487.62" x2="19.51" y2="489.37" stroke="#1a1a1a" stroke-width="0.828" />
<ellipse cx="45.4" cy="472.8" rx="3.7" ry="2.6" fill="#fff" stroke="#1a1a1a" stroke-width="1.173" transform="rotate(70 45.4 472.8)"/>
<ellipse cx="45.6" cy="472.8" rx="1.85" ry="1.17" fill="none" stroke="#1a1a1a" stroke-width="0.966" transform="rotate(70 45.6 472.8)"/>
<ellipse cx="52.2" cy="469.2" rx="3.7" ry="2.6" fill="#fff" stroke="#1a1a1a" stroke-width="1.173" transform="rotate(70 52.2 469.2)"/>
<ellipse cx="52.4" cy="469.2" rx="1.85" ry="1.17" fill="none" stroke="#1a1a1a" stroke-width="0.966" transform="rotate(70 52.4 469.2)"/>
<line x1="56.2" y1="467.6" x2="70.4" y2="459.8" stroke="#1a1a1a" stroke-width="1.104" />
<path d="M64 491 L64 540.6 A14.55 7.4 0 0 0 93.1 540.6 L93.1 491 Z" fill="#fff" stroke="#1a1a1a" stroke-width="1.38" stroke-linejoin="round" stroke-linecap="round" />
<ellipse cx="77.8" cy="489.1" rx="17" ry="9.1" fill="#fff" stroke="#1a1a1a" stroke-width="1.794"/>
<ellipse cx="77.8" cy="489.3" rx="15.6" ry="8.1" fill="none" stroke="#1a1a1a" stroke-width="0.966"/>
<ellipse cx="77.8" cy="488.6" rx="13.2" ry="6.6" fill="none" stroke="#1a1a1a" stroke-width="1.242"/>
<ellipse cx="77.5" cy="488" rx="5.6" ry="3.4" fill="#fff" stroke="#1a1a1a" stroke-width="1.38"/>
<ellipse cx="77.5" cy="487.6" rx="3.2" ry="1.8" fill="none" stroke="#1a1a1a" stroke-width="1.242"/>
<path d="M71.9 488 L71.9 489.6 Q77.5 494 83.1 489.6 L83.1 488" fill="none" stroke="#1a1a1a" stroke-width="1.104" stroke-linejoin="round" stroke-linecap="round" />
<ellipse cx="87.38" cy="490.51" rx="1.7" ry="1" fill="none" stroke="#1a1a1a" stroke-width="1.173"/>
<ellipse cx="80.44" cy="493.63" rx="1.7" ry="1" fill="none" stroke="#1a1a1a" stroke-width="1.173"/>
<ellipse cx="71.24" cy="492.63" rx="1.7" ry="1" fill="none" stroke="#1a1a1a" stroke-width="1.173"/>
<ellipse cx="68.22" cy="487.09" rx="1.7" ry="1" fill="none" stroke="#1a1a1a" stroke-width="1.173"/>
<ellipse cx="75.16" cy="483.97" rx="1.7" ry="1" fill="none" stroke="#1a1a1a" stroke-width="1.173"/>
<ellipse cx="84.36" cy="484.97" rx="1.7" ry="1" fill="none" stroke="#1a1a1a" stroke-width="1.173"/>
<line x1="77.8" y1="470" x2="77.8" y2="485.4" stroke="#1a1a1a" stroke-width="1.104" />
<text x="28" y="518.8" font-size="13" fill="#222" stroke="#222" stroke-width="0.15" text-anchor="start">2</text>
<line x1="39.1" y1="515.2" x2="64" y2="515.2" stroke="#1a1a1a" stroke-width="1.104" />
<line x1="151.6" y1="418.8" x2="151.6" y2="438" stroke="#1a1a1a" stroke-width="1.104" />
<path d="M144.6 444.6 L144.6 449.4 A8.1 3.9 0 0 0 160.8 449.4 L160.8 444.6" fill="#fff" stroke="#1a1a1a" stroke-width="1.38" stroke-linejoin="round" stroke-linecap="round" />
<ellipse cx="152.7" cy="444.6" rx="8.1" ry="3.9" fill="#fff" stroke="#1a1a1a" stroke-width="1.518"/>
<ellipse cx="152.7" cy="444.8" rx="6" ry="2.6" fill="none" stroke="#1a1a1a" stroke-width="1.242"/>
<path d="M147.2 446.2 Q152.7 449.6 158.2 446.2" fill="none" stroke="#1a1a1a" stroke-width="0.966" stroke-linejoin="round" stroke-linecap="round" />
<text x="194.5" y="428.2" font-size="13" fill="#222" stroke="#222" stroke-width="0.15" text-anchor="start">9</text>
<line x1="189" y1="429.1" x2="160.9" y2="444.9" stroke="#1a1a1a" stroke-width="1.104" />
<line x1="160.9" y1="445.3" x2="240" y2="452.3" stroke="#1a1a1a" stroke-width="1.104" />
<path d="M149.2 477 L149.2 482.2 Q152.2 484 155.2 482.2 L155.2 477" fill="#fff" stroke="#1a1a1a" stroke-width="1.242" stroke-linejoin="round" stroke-linecap="round" />
<path d="M146.6 472.4 L146.8 476.6 Q152.4 480 158.2 476.6 L158.4 472.4" fill="#fff" stroke="#1a1a1a" stroke-width="1.242" stroke-linejoin="round" stroke-linecap="round" />
<line x1="150.4" y1="474.6" x2="150.4" y2="478.2" stroke="#1a1a1a" stroke-width="0.966" />
<line x1="155" y1="474.6" x2="155" y2="478" stroke="#1a1a1a" stroke-width="0.966" />
<ellipse cx="152.4" cy="470.9" rx="9.2" ry="3.6" fill="#fff" stroke="#1a1a1a" stroke-width="1.656"/>
<path d="M147 460.7 L147 469.6 A5.4 2.3 0 0 0 157.8 469.6 L157.8 460.7" fill="#fff" stroke="#1a1a1a" stroke-width="1.311" stroke-linejoin="round" stroke-linecap="round" />
<ellipse cx="152.4" cy="460.7" rx="5.4" ry="2.3" fill="#fff" stroke="#1a1a1a" stroke-width="1.311"/>
<text x="194.2" y="473.8" font-size="13" fill="#222" stroke="#222" stroke-width="0.15" text-anchor="start">8</text>
<line x1="161.7" y1="469.4" x2="189.8" y2="469.4" stroke="#1a1a1a" stroke-width="1.104" />
<line x1="161.7" y1="470.7" x2="195" y2="501.2" stroke="#1a1a1a" stroke-width="1.104" />
<ellipse cx="152.4" cy="492.8" rx="8.2" ry="4.6" fill="#fff" stroke="#1a1a1a" stroke-width="1.311"/>
<line x1="160.4" y1="494.6" x2="189" y2="536.4" stroke="#1a1a1a" stroke-width="1.104" />
<path d="M136.6 502.1 Q131.4 503 130 507.1 L130.6 518.4 Q133 521.6 138.3 522 L142 514 L140 505.4 Z" fill="#fff" stroke="#1a1a1a" stroke-width="1.242" stroke-linejoin="round" stroke-linecap="round" />
<path d="M139.9 515 L140.8 523.7 Q145 528 151.6 527.9 Q158 526 161.5 521.2 L163 516" fill="#fff" stroke="#1a1a1a" stroke-width="1.311" stroke-linejoin="round" stroke-linecap="round" />
<path d="M144.6 518.6 L145 523.4 M151.6 520.4 L151.8 526" fill="none" stroke="#1a1a1a" stroke-width="0.966" stroke-linejoin="round" stroke-linecap="round" />
<path d="M135.8 508.8 L136 511.6 Q137 514.6 141.6 517.2 L154.9 520.4 Q160.6 520.6 165.7 517.1 L165.2 514.6" fill="#fff" stroke="#1a1a1a" stroke-width="1.242" stroke-linejoin="round" stroke-linecap="round" />
<path d="M135.8 508.8 Q137 506.4 139.9 505.4 L149.9 500 Q152.8 499.4 155.7 501 L164.9 511.3 Q166.2 513.4 165.2 514.6 Q163.6 516.8 161.5 517.1 L154.9 517.6 L141.6 514.6 Q136.6 512.4 135.8 508.8 Z" fill="#fff" stroke="#1a1a1a" stroke-width="1.38" stroke-linejoin="round" stroke-linecap="round" />
<ellipse cx="150.7" cy="508.8" rx="9.1" ry="5.6" fill="none" stroke="#1a1a1a" stroke-width="1.38" transform="rotate(8 150.7 508.8)"/>
<ellipse cx="150.7" cy="508.8" rx="7.2" ry="4.3" fill="none" stroke="#1a1a1a" stroke-width="1.104" transform="rotate(8 150.7 508.8)"/>
<ellipse cx="150.7" cy="508.6" rx="4.6" ry="2.6" fill="none" stroke="#1a1a1a" stroke-width="1.242" transform="rotate(8 150.7 508.6)"/>
<ellipse cx="150.7" cy="508.8" rx="8.2" ry="5" fill="none" stroke="#555" stroke-width="0.69" transform="rotate(8 150.7 508.8)"/>
<ellipse cx="138.4" cy="509.6" rx="1.4" ry="1.1" fill="none" stroke="#1a1a1a" stroke-width="1.104"/>
<ellipse cx="162.9" cy="514.4" rx="1.4" ry="1.1" fill="none" stroke="#1a1a1a" stroke-width="1.104"/>
<ellipse cx="151.6" cy="501.6" rx="1.4" ry="1" fill="none" stroke="#1a1a1a" stroke-width="1.104"/>
<line x1="152.4" y1="528" x2="152.4" y2="568.6" stroke="#1a1a1a" stroke-width="1.104" />
<text x="149" y="583" font-size="13" fill="#222" stroke="#222" stroke-width="0.15" text-anchor="start">7</text>
<line x1="139.9" y1="517.4" x2="139.9" y2="532" stroke="#1a1a1a" stroke-width="1.104" />
<ellipse cx="139.6" cy="534.9" rx="4" ry="2.2" fill="#fff" stroke="#1a1a1a" stroke-width="1.518"/>
<ellipse cx="139.6" cy="534.7" rx="1.8" ry="0.9" fill="none" stroke="#1a1a1a" stroke-width="0.966"/>
<path d="M137.7 549.2 L137.7 539.4 Q139.6 537.9 141.5 539.4 L141.5 549.2" fill="#fff" stroke="#1a1a1a" stroke-width="1.173" stroke-linejoin="round" stroke-linecap="round" />
<line x1="137.7" y1="539.7" x2="141.5" y2="540.2" stroke="#333" stroke-width="0.759" />
<line x1="137.7" y1="540.95" x2="141.5" y2="541.45" stroke="#333" stroke-width="0.759" />
<line x1="137.7" y1="542.2" x2="141.5" y2="542.7" stroke="#333" stroke-width="0.759" />
<line x1="137.7" y1="543.45" x2="141.5" y2="543.95" stroke="#333" stroke-width="0.759" />
<line x1="137.7" y1="544.7" x2="141.5" y2="545.2" stroke="#333" stroke-width="0.759" />
<line x1="137.7" y1="545.95" x2="141.5" y2="546.45" stroke="#333" stroke-width="0.759" />
<path d="M137.56 549.2 L141.63 549.2 L143.3 550.32 L143.3 554.24 L141.26 554.8 L137.56 554.8 L135.9 553.96 L135.9 550.04 Z" fill="#fff" stroke="#1a1a1a" stroke-width="1.311" stroke-linejoin="round" stroke-linecap="round" />
<line x1="138.86" y1="549.76" x2="138.86" y2="554.52" stroke="#1a1a1a" stroke-width="0.828" />
<line x1="141.63" y1="550.04" x2="141.45" y2="554.52" stroke="#1a1a1a" stroke-width="0.828" />
<line x1="219.2" y1="359.1" x2="252.4" y2="400.7" stroke="#1a1a1a" stroke-width="1.104" />
<line x1="234.9" y1="350.8" x2="267.3" y2="393.2" stroke="#1a1a1a" stroke-width="1.104" />
<ellipse cx="255.7" cy="403.5" rx="4.3" ry="2.2" fill="#fff" stroke="#1a1a1a" stroke-width="1.311" transform="rotate(-25 255.7 403.5)"/>
<ellipse cx="255.7" cy="403.5" rx="2.37" ry="0.99" fill="none" stroke="#1a1a1a" stroke-width="1.104" transform="rotate(-25 255.7 403.5)"/>
<ellipse cx="260.2" cy="409.8" rx="4.3" ry="2.2" fill="#fff" stroke="#1a1a1a" stroke-width="1.311" transform="rotate(-25 260.2 409.8)"/>
<ellipse cx="260.2" cy="409.8" rx="2.37" ry="0.99" fill="none" stroke="#1a1a1a" stroke-width="1.104" transform="rotate(-25 260.2 409.8)"/>
<ellipse cx="270.3" cy="394.8" rx="4.3" ry="2.2" fill="#fff" stroke="#1a1a1a" stroke-width="1.311" transform="rotate(-25 270.3 394.8)"/>
<ellipse cx="270.3" cy="394.8" rx="2.37" ry="0.99" fill="none" stroke="#1a1a1a" stroke-width="1.104" transform="rotate(-25 270.3 394.8)"/>
<ellipse cx="275.2" cy="401.2" rx="4.3" ry="2.2" fill="#fff" stroke="#1a1a1a" stroke-width="1.311" transform="rotate(-25 275.2 401.2)"/>
<ellipse cx="275.2" cy="401.2" rx="2.37" ry="0.99" fill="none" stroke="#1a1a1a" stroke-width="1.104" transform="rotate(-25 275.2 401.2)"/>
<path d="M271.97 427.36 L262.06 415.65 Q262.62 413.21 265.11 413.07 L275.02 424.78" fill="#fff" stroke="#1a1a1a" stroke-width="1.173" stroke-linejoin="round" stroke-linecap="round" />
<line x1="262.25" y1="415.88" x2="265.63" y2="413.68" stroke="#333" stroke-width="0.759" />
<line x1="263.06" y1="416.83" x2="266.44" y2="414.63" stroke="#333" stroke-width="0.759" />
<line x1="263.87" y1="417.79" x2="267.25" y2="415.59" stroke="#333" stroke-width="0.759" />
<line x1="264.68" y1="418.74" x2="268.05" y2="416.54" stroke="#333" stroke-width="0.759" />
<line x1="265.48" y1="419.7" x2="268.86" y2="417.49" stroke="#333" stroke-width="0.759" />
<line x1="266.29" y1="420.65" x2="269.67" y2="418.45" stroke="#333" stroke-width="0.759" />
<path d="M271.69 427.59 L275.3 424.54 L277.58 424.24 L280.38 427.55 L278.98 429.55 L275.69 432.33 L273.62 432.87 L270.81 429.55 Z" fill="#fff" stroke="#1a1a1a" stroke-width="1.311" stroke-linejoin="round" stroke-linecap="round" />
<line x1="273.24" y1="427.1" x2="276.64" y2="431.12" stroke="#1a1a1a" stroke-width="0.828" />
<line x1="275.9" y1="425.25" x2="278.94" y2="429.17" stroke="#1a1a1a" stroke-width="0.828" />
<path d="M293.48 425.01 L277.01 406.58 Q277.5 404.13 279.99 403.91 L296.46 422.34" fill="#fff" stroke="#1a1a1a" stroke-width="1.173" stroke-linejoin="round" stroke-linecap="round" />
<line x1="277.21" y1="406.8" x2="280.52" y2="404.51" stroke="#333" stroke-width="0.759" />
<line x1="278.04" y1="407.74" x2="281.36" y2="405.44" stroke="#333" stroke-width="0.759" />
<line x1="278.87" y1="408.67" x2="282.19" y2="406.38" stroke="#333" stroke-width="0.759" />
<line x1="279.71" y1="409.6" x2="283.02" y2="407.31" stroke="#333" stroke-width="0.759" />
<line x1="280.54" y1="410.53" x2="283.86" y2="408.24" stroke="#333" stroke-width="0.759" />
<line x1="281.37" y1="411.46" x2="284.69" y2="409.17" stroke="#333" stroke-width="0.759" />
<line x1="282.21" y1="412.4" x2="285.52" y2="410.1" stroke="#333" stroke-width="0.759" />
<line x1="283.04" y1="413.33" x2="286.35" y2="411.04" stroke="#333" stroke-width="0.759" />
<line x1="283.87" y1="414.26" x2="287.19" y2="411.97" stroke="#333" stroke-width="0.759" />
<line x1="284.7" y1="415.19" x2="288.02" y2="412.9" stroke="#333" stroke-width="0.759" />
<line x1="285.54" y1="416.12" x2="288.85" y2="413.83" stroke="#333" stroke-width="0.759" />
<line x1="286.37" y1="417.06" x2="289.69" y2="414.76" stroke="#333" stroke-width="0.759" />
<line x1="287.2" y1="417.99" x2="290.52" y2="415.7" stroke="#333" stroke-width="0.759" />
<line x1="288.04" y1="418.92" x2="291.35" y2="416.63" stroke="#333" stroke-width="0.759" />
<line x1="288.87" y1="419.85" x2="292.18" y2="417.56" stroke="#333" stroke-width="0.759" />
<path d="M293.21 425.25 L296.73 422.1 L299 421.74 L301.89 424.97 L300.54 427.01 L297.34 429.88 L295.27 430.47 L292.38 427.24 Z" fill="#fff" stroke="#1a1a1a" stroke-width="1.311" stroke-linejoin="round" stroke-linecap="round" />
<line x1="294.74" y1="424.71" x2="298.25" y2="428.64" stroke="#1a1a1a" stroke-width="0.828" />
<line x1="297.35" y1="422.79" x2="300.5" y2="426.64" stroke="#1a1a1a" stroke-width="0.828" />
<path d="M165.7 299.1 L165.7 357.7 L182.2 387.9" fill="none" stroke="#1a1a1a" stroke-width="1.104" stroke-linejoin="round" stroke-linecap="round" />
<line x1="165.7" y1="357.7" x2="173.4" y2="355.6" stroke="#1a1a1a" stroke-width="1.104" />
<line x1="182.2" y1="387.9" x2="197.4" y2="383.2" stroke="#1a1a1a" stroke-width="1.104" />
<line x1="178.5" y1="380.6" x2="184" y2="378.9" stroke="#1a1a1a" stroke-width="1.104" />
<ellipse cx="177.2" cy="356.3" rx="3.5" ry="4.6" fill="#fff" stroke="#1a1a1a" stroke-width="1.242" transform="rotate(-18 177.2 356.3)"/>
<ellipse cx="187.7" cy="378.4" rx="3.5" ry="4.6" fill="#fff" stroke="#1a1a1a" stroke-width="1.242" transform="rotate(-18 187.7 378.4)"/>
<ellipse cx="201.7" cy="380.6" rx="3.5" ry="4.6" fill="#fff" stroke="#1a1a1a" stroke-width="1.242" transform="rotate(-18 201.7 380.6)"/>
<line x1="180.5" y1="354.4" x2="188.6" y2="350.2" stroke="#1a1a1a" stroke-width="1.104" />
<path d="M203.2 342.2 L199.5 344 L199.5 370.5 L191.3 375.1" fill="none" stroke="#1a1a1a" stroke-width="1.104" stroke-linejoin="round" stroke-linecap="round" />
<path d="M214.2 343.1 L210 345.8 L210 376 L205 378.8" fill="none" stroke="#1a1a1a" stroke-width="1.104" stroke-linejoin="round" stroke-linecap="round" />
<text x="141.4" y="327.7" font-size="13" fill="#222" stroke="#222" stroke-width="0.15" text-anchor="start">5</text>
<line x1="145" y1="331.2" x2="145" y2="354" stroke="#1a1a1a" stroke-width="1.104" />
<line x1="143.9" y1="356.6" x2="200.5" y2="325.7" stroke="#1a1a1a" stroke-width="1.104" />
<line x1="341" y1="194.2" x2="369.7" y2="218.5" stroke="#1a1a1a" stroke-width="1.104" />
<line x1="474" y1="172.4" x2="506" y2="153.2" stroke="#1a1a1a" stroke-width="1.104" />
</svg></body></html>
